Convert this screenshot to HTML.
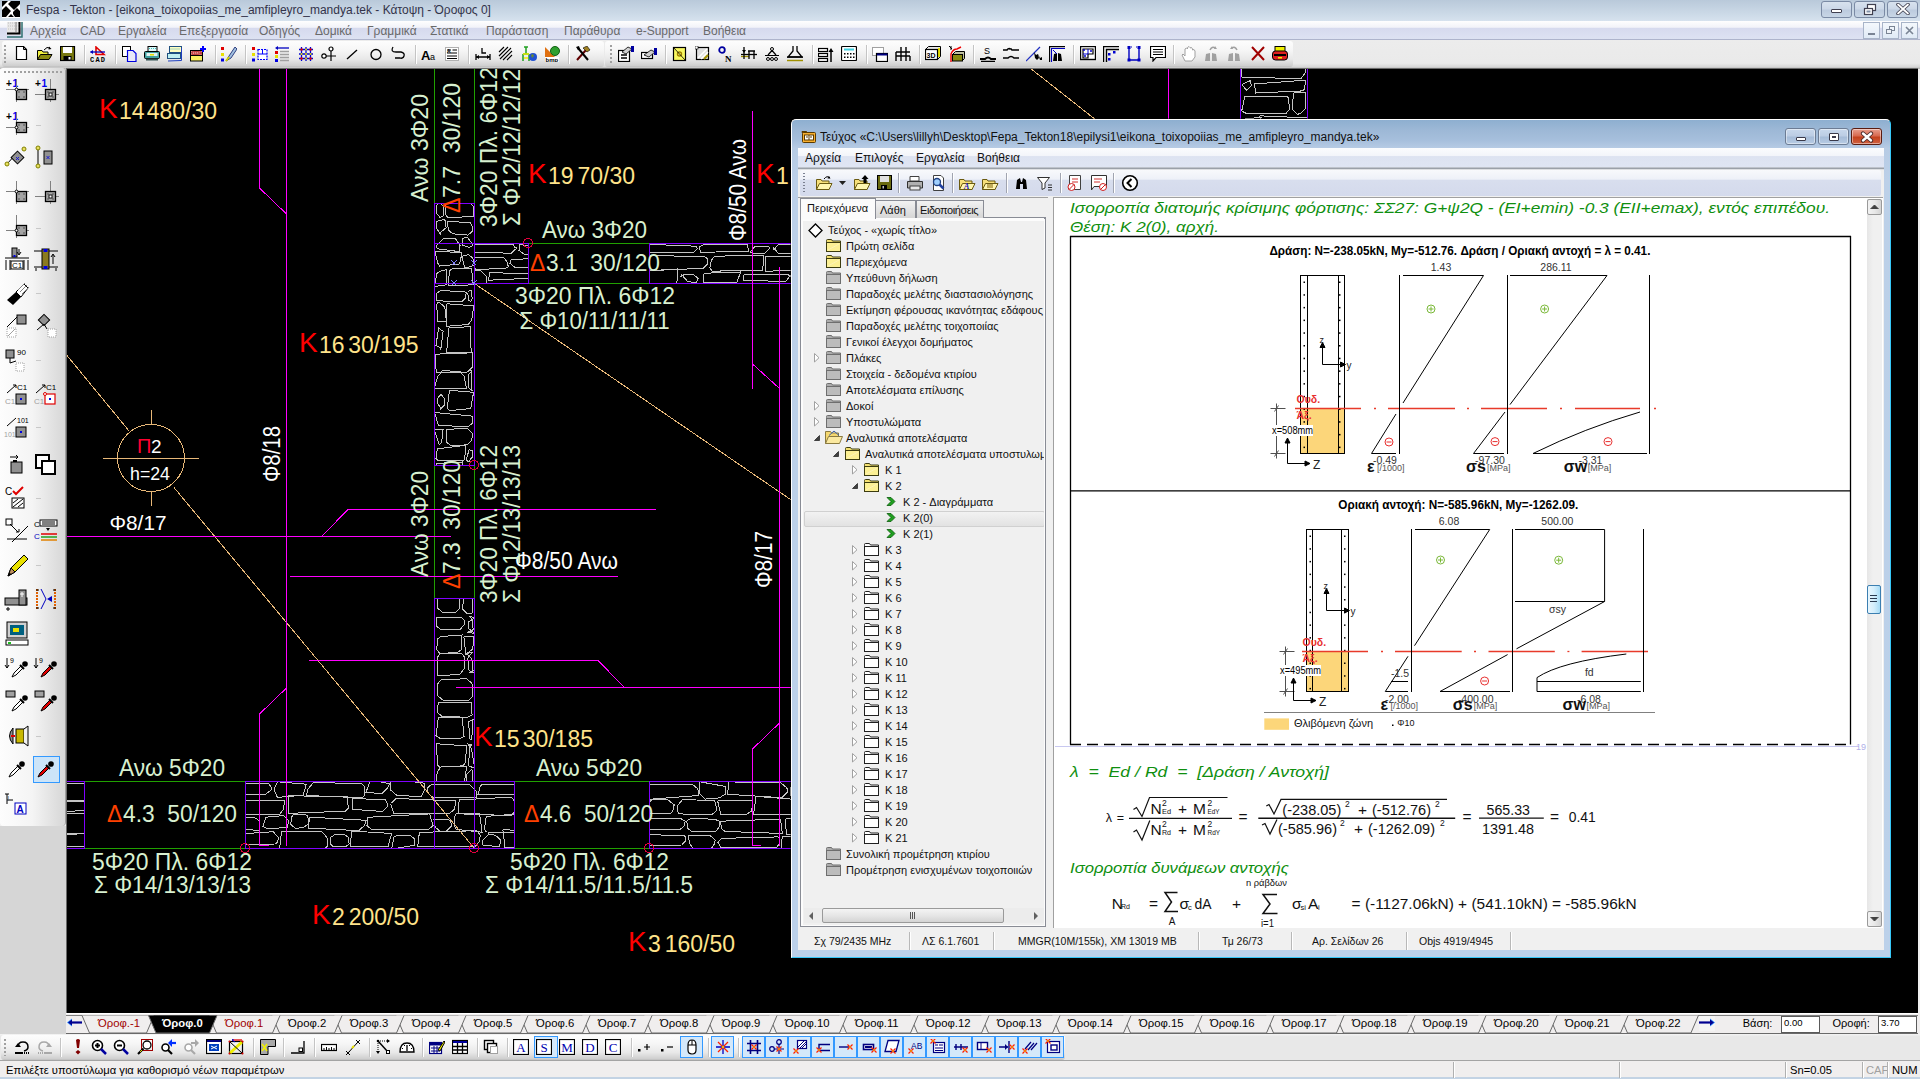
<!DOCTYPE html><html><head><meta charset="utf-8"><style>*{margin:0;padding:0;box-sizing:border-box}
html,body{width:1920px;height:1079px;overflow:hidden;background:#f0f0f0;font-family:"Liberation Sans",sans-serif;color:#000}
.a{position:absolute}
svg{position:absolute;overflow:hidden}
#title{left:0;top:0;width:1920px;height:21px;background:linear-gradient(#b9c9da,#cad8e6 60%,#d6e2ee)}
#title .t{left:26px;top:3px;font-size:12px;color:#33334a;white-space:nowrap}
#menu{left:0;top:21px;width:1920px;height:19px;background:linear-gradient(#fefefe 0,#f2f3f9 35%,#d6daee 40%,#dde2f2 100%);border-bottom:1px solid #aeb4cc}
#menu span{position:absolute;top:3px;font-size:12px;color:#6a6a6a;white-space:nowrap}
#tb{left:0;top:40px;width:1920px;height:29px;background:linear-gradient(#ececec,#eaeaea 80%,#d8d8d8 92%,#b0b0b0)}
.tbin{border-radius:3px;background:linear-gradient(#fdfdfd,#f6f6f6 35%,#e8e8e8 70%,#cfcfcf 95%,#bdbdbd)}
#lt{left:0;top:68px;width:66px;height:758px;border-radius:3px 3px 4px 4px;background:linear-gradient(90deg,#fdfdfd,#f4f4f4 50%,#e2e2e2 80%,#d8d8d8 97%);border-right:1px solid #a0a0a0}
#canvas{left:66px;top:68px;width:1852px;height:946px;background:#000;border-left:1px solid #6a6a6a;border-top:1px solid #6a6a6a}
#tabs{left:66px;top:1013px;width:1854px;height:21px;background:#f0eeee}
#ltgray{left:0;top:826px;width:66px;height:208px;background:#d6d6d6}
#btb{left:0;top:1034px;width:1920px;height:27px;background:linear-gradient(#f4f4f4,#e8e8e8 10%,#e8e8e8);border-bottom:1px solid #a4a4a4}
#status{left:0;top:1061px;width:1920px;height:18px;background:#f0eeee;border-bottom:2px solid #c3d3e4}
#status span{position:absolute;top:3px;font-size:11.2px;white-space:nowrap}
.sep{position:absolute;width:1px;background:#c8c8c8;box-shadow:1px 0 0 #fff}
.tr{font-size:11px;color:#111;white-space:nowrap}
</style></head><body><div id="title" class="a"><div class="a t">Fespa - Tekton - [eikona_toixopoiias_me_amfipleyro_mandya.tek - Κάτοψη - Όροφος 0]</div></div><svg class="a" style="left:2px;top:1px" width="18" height="17" viewBox="0 0 18 17"><rect x="0" y="0" width="18" height="17" fill="#fff"/><path d="M0,0L6,0L0,6Z M9,0L18,0L18,3L12,9L6,3Z M0,9L4,5L9,10L4,16L0,16Z M11,11L15,7L18,10L18,16L13,16L11,13Z M6,16L9,13L12,16Z" fill="#000"/></svg><div class="a" style="left:1821px;top:1px;width:31px;height:17px;border:1px solid #7a8aa4;border-radius:3px;background:linear-gradient(#d8e2ee,#ccd8e8 45%,#bccbde 55%,#c8d6e6)"></div><div class="a" style="left:1854px;top:1px;width:31px;height:17px;border:1px solid #7a8aa4;border-radius:3px;background:linear-gradient(#d8e2ee,#ccd8e8 45%,#bccbde 55%,#c8d6e6)"></div><div class="a" style="left:1887px;top:1px;width:31px;height:17px;border:1px solid #7a8aa4;border-radius:3px;background:linear-gradient(#d8e2ee,#ccd8e8 45%,#bccbde 55%,#c8d6e6)"></div><div class="a" style="left:1831px;top:9px;width:11px;height:4px;background:#fff;border:1px solid #404050;border-radius:1px"></div><svg class="a" style="left:1863px;top:3px" width="14" height="13"><rect x="4.5" y="1.5" width="8" height="6" fill="#fff" stroke="#404050" stroke-width="1.2"/><rect x="1.5" y="5.5" width="8" height="6" fill="#fff" stroke="#404050" stroke-width="1.2"/><rect x="3.5" y="7.5" width="4" height="2" fill="#8090a8"/></svg><svg class="a" style="left:1896px;top:3px" width="14" height="12"><path d="M2,1.5L12,10.5M12,1.5L2,10.5" stroke="#404050" stroke-width="3.6" stroke-linecap="round"/><path d="M2,1.5L12,10.5M12,1.5L2,10.5" stroke="#fff" stroke-width="1.8" stroke-linecap="round"/></svg><div id="menu" class="a"><svg class="a" style="left:7px;top:1px" width="16" height="16" viewBox="0 0 16 16"><rect x="0" y="0" width="13" height="13" fill="#e8e8e8"/><path d="M1,1L12,1M1,4L12,4M1,7L12,7" stroke="#c0c0c0" stroke-dasharray="1,1"/><path d="M9,0L9,10" stroke="#808080"/><path d="M0,11.5L12.5,11.5L12.5,0" fill="none" stroke="#000" stroke-width="2"/><path d="M0,15L15,15L15,0" fill="none" stroke="#307070" stroke-width="1.5"/></svg><span style="left:30px">Αρχεία</span><span style="left:80px">CAD</span><span style="left:118px">Εργαλεία</span><span style="left:179px">Επεξεργασία</span><span style="left:259px">Οδηγός</span><span style="left:315px">Δομικά</span><span style="left:367px">Γραμμικά</span><span style="left:430px">Στατικά</span><span style="left:486px">Παράσταση</span><span style="left:564px">Παράθυρα</span><span style="left:636px">e-Support</span><span style="left:703px">Βοήθεια</span></div><div class="a" style="left:1863px;top:22px;width:17px;height:17px;border:1px solid #a8b4c8;background:linear-gradient(#f4f8fc,#e0eaf6)"></div><div class="a" style="left:1882px;top:22px;width:17px;height:17px;border:1px solid #a8b4c8;background:linear-gradient(#f4f8fc,#e0eaf6)"></div><div class="a" style="left:1901px;top:22px;width:17px;height:17px;border:1px solid #a8b4c8;background:linear-gradient(#f4f8fc,#e0eaf6)"></div><div class="a" style="left:1868px;top:33px;width:7px;height:2px;background:#7a8494"></div><svg class="a" style="left:1886px;top:26px" width="10" height="9"><rect x="3.5" y="0.5" width="5" height="4" fill="none" stroke="#7a8494"/><rect x="0.5" y="3.5" width="5" height="4" fill="#eef2f8" stroke="#7a8494"/></svg><svg class="a" style="left:1905px;top:26px" width="9" height="9"><path d="M1,1L8,8M8,1L1,8" stroke="#7a8494" stroke-width="1.6"/></svg><div id="tb" class="a"></div><div class="a tbin" style="left:2px;top:41px;width:602px;height:26px"></div><div class="a tbin" style="left:605px;top:41px;width:688px;height:26px"></div><div class="a" style="left:4px;top:45px;width:2px;height:18px;background:repeating-linear-gradient(#a0a0a0 0 2px,transparent 2px 4px)"></div><div class="a" style="left:610px;top:45px;width:2px;height:18px;background:repeating-linear-gradient(#a0a0a0 0 2px,transparent 2px 4px)"></div><svg class="a" style="left:14px;top:46px" width="16" height="16" viewBox="0 0 16 16"><path d="M2.5,0.5L9.5,0.5L12.5,3.5L12.5,13.5L2.5,13.5Z" fill="#fff" stroke="#000" stroke-width="1.2"/><path d="M9.5,0.5L9.5,3.5L12.5,3.5" fill="none" stroke="#000"/></svg><svg class="a" style="left:37px;top:46px" width="16" height="16" viewBox="0 0 16 16"><path d="M0.5,13.5L0.5,4.5L5,4.5L6,6L11,6L11,13.5Z" fill="#f0f040" stroke="#000"/><path d="M0.5,13.5L3.5,8.5L15,8.5L12,13.5Z" fill="#8a8a10" stroke="#000"/><path d="M7,4Q10,0 13,2" fill="none" stroke="#000"/><path d="M12,0.5L14.5,3L11.5,3.5Z" fill="#000"/></svg><svg class="a" style="left:60px;top:46px" width="16" height="16" viewBox="0 0 16 16"><rect x="0.5" y="0.5" width="14" height="14" fill="#7a7a10" stroke="#000" stroke-width="1.2"/><rect x="3" y="1" width="9" height="6" fill="#fff"/><rect x="3.5" y="10" width="8" height="4.5" fill="#000"/><rect x="8.5" y="11" width="2" height="2.5" fill="#fff"/></svg><svg class="a" style="left:90px;top:46px" width="16" height="16" viewBox="0 0 16 16"><path d="M6,1L14,8.5L6,8.5Z" fill="none" stroke="#e00000" stroke-width="1.6"/><path d="M0.5,6L15,6" stroke="#0000c0" stroke-width="1.3"/><path d="M0,6L3,4L3,8Z" fill="#0000c0"/><text x="0" y="15.5" font-size="7" font-weight="bold" fill="#000" font-family="Liberation Mono" textLength="15">CAD</text></svg><svg class="a" style="left:122px;top:46px" width="16" height="16" viewBox="0 0 16 16"><rect x="0.5" y="0.5" width="8" height="10" fill="#fff" stroke="#000"/><path d="M5.5,4.5L11,4.5L14,7.5L14,15.5L5.5,15.5Z" fill="#e8e8f8" stroke="#0000e0" stroke-width="1.2"/></svg><svg class="a" style="left:144px;top:46px" width="16" height="16" viewBox="0 0 16 16"><rect x="4" y="0.5" width="9" height="5" fill="#e0f8f8" stroke="#000"/><path d="M5,2.5L12,2.5" stroke="#40c0c0" stroke-dasharray="1,1"/><rect x="0.5" y="5.5" width="15" height="7" rx="1" fill="#40a0a0" stroke="#000"/><rect x="2.5" y="7" width="11" height="3" fill="#e0f0f0"/><rect x="6" y="8" width="4" height="1.5" fill="#e0e000"/><rect x="2" y="12.5" width="12" height="2" fill="#305050"/></svg><svg class="a" style="left:167px;top:46px" width="16" height="16" viewBox="0 0 16 16"><rect x="2.5" y="0.5" width="12" height="6" fill="#ffffc0" stroke="#205080"/><path d="M3.5,3L13,3" stroke="#40a0c0" stroke-dasharray="1,1"/><rect x="0.5" y="7.5" width="13" height="5" fill="#c0f0f0" stroke="#205080"/><path d="M14.5,2L14.5,14.5L1,15" fill="none" stroke="#2040c0"/></svg><svg class="a" style="left:190px;top:46px" width="16" height="16" viewBox="0 0 16 16"><rect x="0.5" y="4.5" width="12" height="5" fill="#c04040" stroke="#000"/><path d="M1,5.5L12,9M1,8L12,5.5" stroke="#f0c0c0" stroke-width=".8" stroke-dasharray="1,1"/><rect x="0.5" y="9.5" width="12" height="5.5" fill="#f8f060" stroke="#000"/><path d="M13,0L13,6M10,3L16,3" stroke="#0000ff" stroke-width="2"/></svg><svg class="a" style="left:221px;top:46px" width="16" height="16" viewBox="0 0 16 16"><rect x="0" y="1" width="3" height="3" fill="#e00000"/><rect x="0" y="7" width="3" height="3" fill="#e8e000"/><rect x="0" y="12.5" width="3" height="3" fill="#0000e0"/><path d="M5,15L8,10L14,1L16,3L10,12Z" fill="#a0c0e0" stroke="#304080"/><path d="M5,15L8,11" stroke="#d0d000" stroke-width="2"/></svg><svg class="a" style="left:252px;top:46px" width="16" height="16" viewBox="0 0 16 16"><rect x="0" y="1" width="3" height="3" fill="#e00000"/><rect x="0" y="7" width="3" height="3" fill="#e8e000"/><rect x="0" y="12.5" width="3" height="3" fill="#0000e0"/><rect x="6" y="3.5" width="9" height="10" fill="#fff" stroke="#0000ff" stroke-width="1.2" stroke-dasharray="2,1"/><path d="M6,8L15,8M10.5,3.5L10.5,8" stroke="#0000ff"/></svg><svg class="a" style="left:275px;top:46px" width="16" height="16" viewBox="0 0 16 16"><path d="M2,2L14,2" stroke="#0000c0" stroke-width="1.3"/><path d="M0,2L3,0L3,4Z" fill="#0000c0"/><rect x="0" y="5" width="3" height="3" fill="#e00000"/><rect x="0" y="9" width="3" height="3" fill="#e8e000"/><rect x="0" y="13" width="3" height="3" fill="#0000e0"/><path d="M5,5.5L14,5.5M5,8.5L14,8.5M5,11.5L14,11.5M5,14.5L14,14.5" stroke="#a0a0a0" stroke-width="1.6"/></svg><svg class="a" style="left:298px;top:46px" width="16" height="16" viewBox="0 0 16 16"><path d="M1,3.5L15,3.5M1,8L15,8M1,12.5L15,12.5M3.5,1L3.5,15M8,1L8,15M12.5,1L12.5,15" stroke="#0000d0" stroke-width="1.3"/><g fill="#e00000"><circle cx="3.5" cy="3.5" r="1.2"/><circle cx="12.5" cy="3.5" r="1.2"/><circle cx="3.5" cy="12.5" r="1.2"/><circle cx="12.5" cy="12.5" r="1.2"/></g><g fill="#e8e000"><circle cx="8" cy="8" r="1.1"/><circle cx="8" cy="3.5" r="1"/><circle cx="3.5" cy="8" r="1"/><circle cx="12.5" cy="8" r="1"/><circle cx="8" cy="12.5" r="1"/></g></svg><svg class="a" style="left:321px;top:46px" width="16" height="16" viewBox="0 0 16 16"><circle cx="3" cy="10" r="2.2" fill="#fff" stroke="#000" stroke-width="1.2"/><circle cx="10" cy="3" r="2" fill="#fff" stroke="#000" stroke-width="1.2"/><path d="M5,10L15,10M10,5L10,15" stroke="#000" stroke-width="1.2"/></svg><svg class="a" style="left:344px;top:46px" width="16" height="16" viewBox="0 0 16 16"><path d="M3,13L13,4" stroke="#000" stroke-width="1.3"/></svg><svg class="a" style="left:368px;top:46px" width="16" height="16" viewBox="0 0 16 16"><circle cx="8" cy="8.5" r="5" fill="none" stroke="#000" stroke-width="1.3"/></svg><svg class="a" style="left:390px;top:46px" width="16" height="16" viewBox="0 0 16 16"><path d="M3,1Q0,6 6,6L11,6Q15,7 14,10Q13,13 10,12L5,12" fill="none" stroke="#000" stroke-width="1.3"/></svg><svg class="a" style="left:421px;top:46px" width="16" height="16" viewBox="0 0 16 16"><text x="0" y="14" font-size="13" font-weight="bold" fill="#000" font-family="Liberation Sans">A</text><text x="9" y="14" font-size="9" fill="#000" font-family="Liberation Sans">a</text></svg><svg class="a" style="left:444px;top:46px" width="16" height="16" viewBox="0 0 16 16"><rect x="1.5" y="1.5" width="13" height="13" fill="#fff" stroke="#b0b0b0"/><path d="M3,4L7,4M3,7L13,7M3,10L13,10M3,12.5L13,12.5M8.5,4L13,4" stroke="#000"/><text x="3" y="7" font-size="5" font-weight="bold" font-family="Liberation Sans">A</text></svg><svg class="a" style="left:475px;top:46px" width="16" height="16" viewBox="0 0 16 16"><path d="M1,8L1,14M15,8L15,14M1,11L15,11" stroke="#000" stroke-width="1.3"/><path d="M1,11L4,9L4,13ZM15,11L12,9L12,13Z" fill="#000"/><path d="M7,2L7,7L11,7" fill="none" stroke="#000" stroke-width="1.3"/></svg><svg class="a" style="left:498px;top:46px" width="16" height="16" viewBox="0 0 16 16"><path d="M1,6L6,1M1,10L10,1M2,13L13,2M5,14L14,5M9,14L14,9" stroke="#000" stroke-width="1.1"/></svg><svg class="a" style="left:521px;top:46px" width="16" height="16" viewBox="0 0 16 16"><path d="M3,1L7,1M5,1L5,8M2,8L8,8M2,8L2,15M8,8L8,15" stroke="#20a020" stroke-width="1.5"/><path d="M2,8L8,8M3,12L7,12" stroke="#f0f000" stroke-width="1.5"/><circle cx="12" cy="11" r="4" fill="#2050d0"/><path d="M10,9L12,8L13,10L11,12Z" fill="#6a8a30"/></svg><svg class="a" style="left:544px;top:46px" width="16" height="16" viewBox="0 0 16 16"><path d="M1,1L11,11L1,11Z" fill="#e07010"/><circle cx="11" cy="5" r="4.5" fill="#30a030" stroke="#106010"/><rect x="1" y="11" width="14" height="5" fill="#fff"/><text x="1.5" y="15.8" font-size="6" font-weight="bold" font-family="Liberation Sans">bmp</text></svg><svg class="a" style="left:575px;top:46px" width="16" height="16" viewBox="0 0 16 16"><path d="M2,14L11,4" stroke="#600000" stroke-width="2"/><path d="M8,2L12,0L15,4L12,6Z" fill="#a08020" stroke="#000" stroke-width=".6"/><path d="M3,2L13,14" stroke="#000" stroke-width="2"/><path d="M1,1L4,0L5,3L3,4Z" fill="#000"/></svg><svg class="a" style="left:618px;top:46px" width="16" height="16" viewBox="0 0 16 16"><rect x="0.5" y="4.5" width="11" height="11" fill="#fff" stroke="#000" stroke-width="1.2"/><path d="M3,9L9,9M3,12L9,12" stroke="#000" stroke-width="1.3"/><path d="M4,6L10,1L14,3L8,8Z" fill="#d0d0d0" stroke="#000" stroke-width=".8"/><rect x="13" y="0" width="3" height="6" fill="#0000a0"/></svg><svg class="a" style="left:641px;top:46px" width="16" height="16" viewBox="0 0 16 16"><rect x="0.5" y="6.5" width="11" height="6" fill="#fff" stroke="#000" stroke-width="1.2"/><path d="M3,9L10,4L14,6L8,11Z" fill="#d0d0d0" stroke="#000" stroke-width=".8"/><rect x="13" y="2" width="3" height="7" fill="#0000a0"/></svg><svg class="a" style="left:672px;top:46px" width="16" height="16" viewBox="0 0 16 16"><rect x="1.5" y="1.5" width="12" height="13" fill="#f8f860" stroke="#000" stroke-width="1.2"/><circle cx="7.5" cy="8" r="2" fill="none" stroke="#a08000" stroke-width="1.4"/><path d="M2,2L13,14" stroke="#000" stroke-width=".8"/></svg><svg class="a" style="left:695px;top:46px" width="16" height="16" viewBox="0 0 16 16"><rect x="1.5" y="1.5" width="12" height="12" fill="#e0e0e0" stroke="#000" stroke-width="1.2"/><path d="M3,12L12,3M6,13L13,6" stroke="#fff" stroke-width="1.5"/><path d="M9,13L13,9" stroke="#a09000" stroke-width="2"/><rect x="0" y="0" width="3" height="3" fill="#fff" stroke="#000" stroke-width=".6"/></svg><svg class="a" style="left:718px;top:46px" width="16" height="16" viewBox="0 0 16 16"><circle cx="4" cy="4" r="2.8" fill="none" stroke="#0000a0" stroke-width="1.8"/><text x="7" y="15.5" font-size="9" font-weight="bold" font-family="Liberation Serif" fill="#000">N</text></svg><svg class="a" style="left:741px;top:46px" width="16" height="16" viewBox="0 0 16 16"><path d="M0,8.5L16,8.5" stroke="#000" stroke-width="1.3"/><path d="M0,10.5L8,10.5" stroke="#a09000" stroke-width="1.3"/><path d="M3,1L3,13M8,5L8,13M13,5L13,13M7,5L14,5" stroke="#000" stroke-width="1.3"/><path d="M3,7L1,4L5,4Z" fill="#000"/></svg><svg class="a" style="left:764px;top:46px" width="16" height="16" viewBox="0 0 16 16"><circle cx="8" cy="3" r="1.5" fill="none" stroke="#000"/><path d="M8,4.5L4,9M8,4.5L12,9M1,9.5L15,9.5" stroke="#000" stroke-width="1.2"/><circle cx="4" cy="13" r="1.5" fill="none" stroke="#000"/><circle cx="12" cy="13" r="1.5" fill="none" stroke="#000"/><circle cx="8" cy="13" r="1.5" fill="none" stroke="#000"/></svg><svg class="a" style="left:787px;top:46px" width="16" height="16" viewBox="0 0 16 16"><path d="M6,0L6,5L1,11L15,11L10,5L10,0" fill="none" stroke="#000" stroke-width="1.3"/><path d="M0,11L16,11" stroke="#000" stroke-width="1.3"/><path d="M0,14.5L16,14.5" stroke="#a09000" stroke-width="1.5"/></svg><svg class="a" style="left:818px;top:46px" width="16" height="16" viewBox="0 0 16 16"><rect x="0.5" y="2.5" width="9" height="3" fill="#fff" stroke="#000" stroke-width="1.2"/><rect x="0.5" y="7.5" width="9" height="3" fill="#fff" stroke="#000" stroke-width="1.2"/><rect x="0.5" y="12.5" width="9" height="3" fill="#fff" stroke="#000" stroke-width="1.2"/><path d="M13,16L13,4" stroke="#000" stroke-width="1.5"/><path d="M13,2L10.5,6L15.5,6Z" fill="#000"/></svg><svg class="a" style="left:841px;top:46px" width="16" height="16" viewBox="0 0 16 16"><rect x="0.5" y="0.5" width="15" height="14" rx="1" fill="#fff" stroke="#000" stroke-width="1.2"/><rect x="3" y="2.5" width="10" height="2" fill="#40d0e0"/><g fill="#000"><rect x="3" y="7" width="1.5" height="1.5"/><rect x="6" y="7" width="1.5" height="1.5"/><rect x="9" y="7" width="1.5" height="1.5"/><rect x="12" y="7" width="1.5" height="1.5"/><rect x="3" y="10.5" width="1.5" height="1.5"/><rect x="6" y="10.5" width="1.5" height="1.5"/><rect x="9" y="10.5" width="1.5" height="1.5"/><rect x="12" y="10.5" width="1.5" height="1.5"/></g></svg><svg class="a" style="left:872px;top:46px" width="16" height="16" viewBox="0 0 16 16"><rect x="0.5" y="1.5" width="11" height="8" fill="#fff" stroke="#a0a0a0"/><rect x="4.5" y="7.5" width="11" height="8" fill="#fff" stroke="#000" stroke-width="1.2"/><rect x="5" y="7.5" width="10.5" height="2" fill="#000080"/></svg><svg class="a" style="left:895px;top:46px" width="16" height="16" viewBox="0 0 16 16"><path d="M1,15L1,6M6,15L6,1M11,15L11,1M15,15L15,10M1,6L15,6M1,10L15,10" stroke="#000" stroke-width="1.4"/></svg><svg class="a" style="left:925px;top:46px" width="16" height="16" viewBox="0 0 16 16"><path d="M0.5,3.5L3.5,0.5L15.5,0.5L15.5,10.5L12.5,13.5" fill="#e8e8e8" stroke="#000"/><path d="M14,2L14,11" stroke="#e8e000" stroke-width="2"/><rect x="0.5" y="3.5" width="12" height="10" fill="#fff" stroke="#000" stroke-width="1.2"/><text x="1.5" y="11.5" font-size="7" font-weight="bold" font-family="Liberation Sans" fill="#000">3D</text></svg><svg class="a" style="left:949px;top:46px" width="16" height="16" viewBox="0 0 16 16"><path d="M3.5,8.5L6.5,5.5L15.5,5.5L15.5,12.5L13.5,14.5" fill="#c0c0a0" stroke="#000"/><rect x="3.5" y="8.5" width="10" height="6.5" fill="#8a8a10" stroke="#000"/><path d="M2,16L2,8Q4,3 8,3L12,1" fill="none" stroke="#f00000" stroke-width="1.4"/><path d="M0,0L3,3M2,0L2,4" stroke="#000"/></svg><svg class="a" style="left:980px;top:46px" width="16" height="16" viewBox="0 0 16 16"><text x="4" y="8" font-size="9" font-family="Liberation Sans">S</text><path d="M0,13L5,13Q8,10 11,13L16,13" fill="none" stroke="#000" stroke-width="2"/><path d="M1,15.5L15,15.5" stroke="#000" stroke-width="1.5"/></svg><svg class="a" style="left:1003px;top:46px" width="16" height="16" viewBox="0 0 16 16"><path d="M0,4L4,4Q6,1 9,4L16,4M0,12L5,12Q8,9 11,12L16,12" fill="none" stroke="#000" stroke-width="1.6"/><path d="M6,3L9,3" stroke="#000" stroke-dasharray="1,1"/></svg><svg class="a" style="left:1026px;top:46px" width="16" height="16" viewBox="0 0 16 16"><path d="M0,15L14,1" stroke="#2030c0" stroke-width="1.2"/><path d="M8,6L10,9L12,8L13,12L11,14L9,12Z" fill="#000"/><path d="M12,8L14,12L16,11L16,14L14,14Z" fill="#000"/></svg><svg class="a" style="left:1049px;top:46px" width="16" height="16" viewBox="0 0 16 16"><path d="M0.5,16L0.5,0.5L16,0.5" fill="none" stroke="#000" stroke-width="1.3"/><path d="M2.5,16L2.5,2.5L16,2.5" fill="none" stroke="#0000c0" stroke-width="1.1"/><path d="M4,15L5,8L8,7L8,15ZM9,15L9,7L12,8L13,15Z" fill="#000"/><path d="M4,4L8,8" stroke="#0000c0"/></svg><svg class="a" style="left:1080px;top:46px" width="16" height="16" viewBox="0 0 16 16"><rect x="0.5" y="0.5" width="15" height="13" fill="#fff" stroke="#000" stroke-width="1.4"/><path d="M3,3L13,3L13,8L8,8L8,12L3,12Z" fill="#fff" stroke="#000" stroke-width="1.2"/><path d="M3,8L8,8M8,3L8,8" stroke="#0000d0"/><circle cx="4" cy="4" r="1" fill="#0000d0"/><circle cx="11" cy="5" r="1" fill="#0000d0"/><circle cx="5" cy="10" r="1" fill="#0000d0"/></svg><svg class="a" style="left:1103px;top:46px" width="16" height="16" viewBox="0 0 16 16"><path d="M0.5,16L0.5,0.5L16,0.5" fill="none" stroke="#000" stroke-width="1.4"/><path d="M3.5,16L3.5,3.5L16,3.5" fill="none" stroke="#000" stroke-width="1.4"/><rect x="5" y="7" width="2.5" height="2.5" fill="#0000d0"/><rect x="10" y="5" width="2.5" height="2.5" fill="#0000d0"/><rect x="5" y="12" width="2.5" height="2.5" fill="#0000d0"/></svg><svg class="a" style="left:1126px;top:46px" width="16" height="16" viewBox="0 0 16 16"><path d="M3,1L3,14L13,14L13,1" fill="none" stroke="#0000c0" stroke-width="1.4"/><g fill="#0000c0"><rect x="1.5" y="0" width="3" height="3"/><rect x="11.5" y="0" width="3" height="3"/><rect x="1.5" y="12.5" width="3" height="3"/><rect x="11.5" y="12.5" width="3" height="3"/></g><path d="M5,1L6,1M10,1L11,1" stroke="#0000c0"/></svg><svg class="a" style="left:1150px;top:46px" width="16" height="16" viewBox="0 0 16 16"><path d="M0.5,0.5L15.5,0.5L15.5,11.5L6,11.5L3,15L3,11.5L0.5,11.5Z" fill="#fff" stroke="#000" stroke-width="1.2"/><path d="M3,3.5L13,3.5M3,6L13,6M3,8.5L13,8.5" stroke="#000"/></svg><svg class="a" style="left:1181px;top:46px" width="16" height="16" viewBox="0 0 16 16"><path d="M4,15L1,9L2,8L4,10L4,3L5.5,2L6.5,3L6.5,1.5L8,0.5L9,1.5L9,2L10.5,1.5L11.5,3L11.5,4L13,3.5L14,5L14,11L11,15Z" fill="#fff" stroke="#a0a0a0" stroke-width="1"/></svg><svg class="a" style="left:1204px;top:46px" width="16" height="16" viewBox="0 0 16 16"><path d="M1,15L2,8L6,7L6,15ZM8,15L8,7L12,8L13,15Z" fill="#a0a0a0"/><path d="M6,4Q8,0 11,2" fill="none" stroke="#a0a0a0" stroke-width="1.5"/><path d="M11,0L13,3L10,3Z" fill="#a0a0a0"/></svg><svg class="a" style="left:1227px;top:46px" width="16" height="16" viewBox="0 0 16 16"><path d="M1,15L2,8L6,7L6,15ZM8,15L8,7L12,8L13,15Z" fill="#a0a0a0"/><path d="M10,4Q8,0 5,2" fill="none" stroke="#a0a0a0" stroke-width="1.5"/><path d="M5,0L3,3L6,3Z" fill="#a0a0a0"/></svg><svg class="a" style="left:1250px;top:46px" width="16" height="16" viewBox="0 0 16 16"><path d="M2,1L14,14M14,1L2,14" stroke="#a00000" stroke-width="2"/></svg><svg class="a" style="left:1272px;top:46px" width="16" height="16" viewBox="0 0 16 16"><rect x="3" y="0.5" width="10" height="5" fill="#f0f000" stroke="#000"/><rect x="0.5" y="5" width="15" height="9" rx="3" fill="#e02020" stroke="#000"/><rect x="2" y="8" width="12" height="2" fill="#000"/><rect x="6" y="11" width="4" height="1.5" fill="#f0f000"/></svg><div class="a" style="left:84px;top:45px;width:1px;height:19px;background:#c4c4c4;box-shadow:1px 0 0 #fff"></div><div class="a" style="left:115px;top:45px;width:1px;height:19px;background:#c4c4c4;box-shadow:1px 0 0 #fff"></div><div class="a" style="left:215px;top:45px;width:1px;height:19px;background:#c4c4c4;box-shadow:1px 0 0 #fff"></div><div class="a" style="left:245px;top:45px;width:1px;height:19px;background:#c4c4c4;box-shadow:1px 0 0 #fff"></div><div class="a" style="left:415px;top:45px;width:1px;height:19px;background:#c4c4c4;box-shadow:1px 0 0 #fff"></div><div class="a" style="left:468px;top:45px;width:1px;height:19px;background:#c4c4c4;box-shadow:1px 0 0 #fff"></div><div class="a" style="left:568px;top:45px;width:1px;height:19px;background:#c4c4c4;box-shadow:1px 0 0 #fff"></div><div class="a" style="left:665px;top:45px;width:1px;height:19px;background:#c4c4c4;box-shadow:1px 0 0 #fff"></div><div class="a" style="left:812px;top:45px;width:1px;height:19px;background:#c4c4c4;box-shadow:1px 0 0 #fff"></div><div class="a" style="left:866px;top:45px;width:1px;height:19px;background:#c4c4c4;box-shadow:1px 0 0 #fff"></div><div class="a" style="left:919px;top:45px;width:1px;height:19px;background:#c4c4c4;box-shadow:1px 0 0 #fff"></div><div class="a" style="left:973px;top:45px;width:1px;height:19px;background:#c4c4c4;box-shadow:1px 0 0 #fff"></div><div class="a" style="left:1073px;top:45px;width:1px;height:19px;background:#c4c4c4;box-shadow:1px 0 0 #fff"></div><div class="a" style="left:1173px;top:45px;width:1px;height:19px;background:#c4c4c4;box-shadow:1px 0 0 #fff"></div><div id="lt" class="a"></div><div class="a" style="left:4px;top:71px;width:58px;height:2px;background:repeating-linear-gradient(90deg,#a0a0a0 0 2px,transparent 2px 4px)"></div><svg class="a" style="left:4px;top:79px" width="26" height="26" viewBox="0 0 26 26"><text x="2" y="8" font-size="10" font-weight="bold" font-family="Liberation Sans" fill="#000">+</text><text x="8.5" y="8" font-size="10" font-weight="bold" font-family="Liberation Sans" fill="#0000f0">1</text><path d="M12.5,0L12.5,23M2,10.5L25,10.5" stroke="#808080" stroke-width="1"/><rect x="12.5" y="10.5" width="10" height="10" fill="#a4a4a4" stroke="#000" stroke-width="1.3"/><g fill="#000"><rect x="14.5" y="12.5" width="1" height="1"/><rect x="19.5" y="12.5" width="1" height="1"/><rect x="14.5" y="17.5" width="1" height="1"/><rect x="19.5" y="17.5" width="1" height="1"/></g><circle cx="12.5" cy="10.5" r="1.4" fill="#fff" stroke="#000" stroke-width="1"/></svg><svg class="a" style="left:33px;top:79px" width="26" height="26" viewBox="0 0 26 26"><text x="2" y="8" font-size="10" font-weight="bold" font-family="Liberation Sans" fill="#000">+</text><text x="8.5" y="8" font-size="10" font-weight="bold" font-family="Liberation Sans" fill="#0000f0">1</text><path d="M17.5,0L17.5,23M2,15.5L26,15.5" stroke="#808080" stroke-width="1"/><rect x="12.5" y="10.5" width="10" height="10" fill="#a4a4a4" stroke="#000" stroke-width="1.3"/><rect x="16" y="14" width="3" height="3" fill="#fff" stroke="#000" stroke-width=".9"/><g fill="#000"><rect x="14.5" y="12.5" width="1" height="1"/><rect x="19.5" y="12.5" width="1" height="1"/><rect x="14.5" y="17.5" width="1" height="1"/><rect x="19.5" y="17.5" width="1" height="1"/></g></svg><svg class="a" style="left:4px;top:112px" width="26" height="26" viewBox="0 0 26 26"><text x="2" y="8" font-size="10" font-weight="bold" font-family="Liberation Sans" fill="#000">+</text><text x="8.5" y="8" font-size="10" font-weight="bold" font-family="Liberation Sans" fill="#0000f0">1</text><path d="M12.5,0L12.5,23M2,15.5L25,15.5" stroke="#808080" stroke-width="1"/><rect x="12.5" y="10.5" width="10" height="10" fill="#a4a4a4" stroke="#000" stroke-width="1.3"/><g fill="#000"><rect x="14.5" y="12.5" width="1" height="1"/><rect x="19.5" y="12.5" width="1" height="1"/><rect x="14.5" y="17.5" width="1" height="1"/><rect x="19.5" y="17.5" width="1" height="1"/></g><circle cx="12.5" cy="15.5" r="1.4" fill="#fff" stroke="#000" stroke-width="1"/></svg><svg class="a" style="left:33px;top:112px" width="26" height="26" viewBox="0 0 26 26"><path d="M3,13.5L8,13.5" stroke="#c8c8c8"/></svg><svg class="a" style="left:4px;top:144px" width="26" height="26" viewBox="0 0 26 26"><path d="M3,20L12,10" stroke="#000"/><rect x="9" y="9" width="9" height="9" transform="rotate(45 13.5 13.5)" fill="#909090" stroke="#000"/><circle cx="3" cy="20" r="2" fill="#e8e060" stroke="#808000"/><circle cx="20" cy="5" r="2" fill="#e8e060" stroke="#808000"/><path d="M12,13L15,16M15,13L12,16" stroke="#0000e0" stroke-width=".8"/></svg><svg class="a" style="left:33px;top:144px" width="26" height="26" viewBox="0 0 26 26"><path d="M5,4L5,22" stroke="#000"/><circle cx="5" cy="4" r="2" fill="#e8e060" stroke="#808000"/><circle cx="5" cy="22" r="2" fill="#e8e060" stroke="#808000"/><rect x="11" y="7" width="8" height="13" fill="#909090" stroke="#000"/><path d="M13.5,12L16.5,15M16.5,12L13.5,15" stroke="#0000e0" stroke-width=".8"/></svg><svg class="a" style="left:4px;top:181px" width="26" height="26" viewBox="0 0 26 26"><path d="M12.5,0L12.5,23M2,10.5L25,10.5" stroke="#808080" stroke-width="1"/><rect x="12.5" y="10.5" width="10" height="10" fill="#a4a4a4" stroke="#000" stroke-width="1.3"/><g fill="#000"><rect x="14.5" y="12.5" width="1" height="1"/><rect x="19.5" y="12.5" width="1" height="1"/><rect x="14.5" y="17.5" width="1" height="1"/><rect x="19.5" y="17.5" width="1" height="1"/></g><circle cx="12.5" cy="10.5" r="1.4" fill="#fff" stroke="#000" stroke-width="1"/></svg><svg class="a" style="left:33px;top:181px" width="26" height="26" viewBox="0 0 26 26"><path d="M17.5,0L17.5,23M2,15.5L26,15.5" stroke="#808080" stroke-width="1"/><rect x="12.5" y="10.5" width="10" height="10" fill="#a4a4a4" stroke="#000" stroke-width="1.3"/><rect x="16" y="14" width="3" height="3" fill="#fff" stroke="#000" stroke-width=".9"/><g fill="#000"><rect x="14.5" y="12.5" width="1" height="1"/><rect x="19.5" y="12.5" width="1" height="1"/><rect x="14.5" y="17.5" width="1" height="1"/><rect x="19.5" y="17.5" width="1" height="1"/></g></svg><svg class="a" style="left:4px;top:215px" width="26" height="26" viewBox="0 0 26 26"><path d="M12.5,0L12.5,23M2,15.5L25,15.5" stroke="#808080" stroke-width="1"/><rect x="12.5" y="10.5" width="10" height="10" fill="#a4a4a4" stroke="#000" stroke-width="1.3"/><g fill="#000"><rect x="14.5" y="12.5" width="1" height="1"/><rect x="19.5" y="12.5" width="1" height="1"/><rect x="14.5" y="17.5" width="1" height="1"/><rect x="19.5" y="17.5" width="1" height="1"/></g><circle cx="12.5" cy="15.5" r="1.4" fill="#fff" stroke="#000" stroke-width="1"/></svg><svg class="a" style="left:33px;top:215px" width="26" height="26" viewBox="0 0 26 26"><path d="M3,13.5L8,13.5" stroke="#c8c8c8"/></svg><svg class="a" style="left:4px;top:246px" width="26" height="26" viewBox="0 0 26 26"><rect x="8" y="2" width="5" height="9" fill="#909090" stroke="#000"/><path d="M15,3L15,8M13,6L15,9L17,6" stroke="#000" fill="none"/><rect x="9.5" y="9" width="2" height="2" fill="#0000e0"/><path d="M1,12L25,12M2,14L2,24M6,14L6,24M20,14L20,24M24,14L24,24" stroke="#000"/><rect x="7" y="15" width="12" height="8" fill="#fff" stroke="#000"/><text x="8" y="22" font-size="8" font-family="Liberation Sans">C1</text></svg><svg class="a" style="left:33px;top:246px" width="26" height="26" viewBox="0 0 26 26"><path d="M1,5L25,5M1,21L25,21" stroke="#000" stroke-width="1.2"/><rect x="9" y="3" width="7" height="20" fill="#8a7a20" stroke="#000"/><rect x="10.5" y="3" width="4" height="3" fill="#0000e0"/><rect x="10.5" y="20" width="4" height="3" fill="#0000e0"/><path d="M20,18L20,9M18,11L20,8L22,11" stroke="#000" fill="none"/><path d="M3,22L3,25M23,22L23,25" stroke="#000"/></svg><svg class="a" style="left:4px;top:280px" width="26" height="26" viewBox="0 0 26 26"><path d="M3,20L12,12L17,17L9,25Z" fill="#000"/><path d="M12,12L20,4L24,8L17,17Z" fill="#fff" stroke="#000"/><path d="M14,10L21,3M16,12L23,5M18,14L25,7" stroke="#808080"/></svg><svg class="a" style="left:33px;top:280px" width="26" height="26" viewBox="0 0 26 26"><path d="M3,13.5L8,13.5" stroke="#c8c8c8"/></svg><svg class="a" style="left:4px;top:313px" width="26" height="26" viewBox="0 0 26 26"><path d="M3,14L13,4" stroke="#000"/><rect x="13" y="2" width="9" height="9" fill="#909090" stroke="#000"/><rect x="3" y="15" width="9" height="9" fill="#fff" stroke="#a0a0a0" stroke-dasharray="1,1"/><path d="M4,23L11,16" stroke="#a0a0a0"/></svg><svg class="a" style="left:33px;top:313px" width="26" height="26" viewBox="0 0 26 26"><rect x="7" y="3" width="8" height="8" transform="rotate(45 11 7)" fill="#909090" stroke="#000"/><path d="M4,17L11,11L14,16" stroke="#000" fill="none"/><rect x="15" y="16" width="8" height="8" fill="#fff" stroke="#a0a0a0" stroke-dasharray="1,1"/></svg><svg class="a" style="left:4px;top:347px" width="26" height="26" viewBox="0 0 26 26"><rect x="2" y="3" width="8" height="8" fill="#909090" stroke="#000"/><path d="M6,11L6,16L12,14" stroke="#000" fill="none"/><text x="13" y="8" font-size="8" font-family="Liberation Sans">90</text><rect x="12" y="16" width="8" height="8" fill="#fff" stroke="#a0a0a0" stroke-dasharray="1,1"/></svg><svg class="a" style="left:33px;top:347px" width="26" height="26" viewBox="0 0 26 26"><path d="M3,13.5L8,13.5" stroke="#c8c8c8"/></svg><svg class="a" style="left:4px;top:381px" width="26" height="26" viewBox="0 0 26 26"><path d="M3,12L12,4" stroke="#000"/><path d="M12,4L9,4M12,4L12,7" stroke="#000"/><text x="13" y="9" font-size="8" font-family="Liberation Sans">C1</text><text x="1" y="23" font-size="8" fill="#a0a0a0" font-family="Liberation Sans">C1</text><rect x="12" y="13" width="10" height="10" fill="#909090" stroke="#000"/><rect x="16" y="17" width="2" height="2" fill="#0000e0"/></svg><svg class="a" style="left:33px;top:381px" width="26" height="26" viewBox="0 0 26 26"><path d="M3,12L12,4" stroke="#000"/><path d="M12,4L9,4M12,4L12,7" stroke="#000"/><text x="13" y="9" font-size="8" font-family="Liberation Sans">C1</text><text x="1" y="23" font-size="8" fill="#a0a0a0" font-family="Liberation Sans">C1</text><rect x="12" y="13" width="10" height="10" fill="#fff" stroke="#e00000" stroke-width="1.2"/><rect x="16" y="17" width="2" height="2" fill="#0000e0"/><circle cx="12" cy="13" r="1.5" fill="#fff" stroke="#e00000"/></svg><svg class="a" style="left:4px;top:414px" width="26" height="26" viewBox="0 0 26 26"><path d="M3,12L12,4" stroke="#000"/><text x="13" y="9" font-size="7" font-family="Liberation Sans">101</text><text x="0" y="23" font-size="7" fill="#a0a0a0" font-family="Liberation Sans">101</text><rect x="12" y="13" width="10" height="10" fill="#909090" stroke="#000"/><rect x="16" y="17" width="2" height="2" fill="#0000e0"/></svg><svg class="a" style="left:33px;top:414px" width="26" height="26" viewBox="0 0 26 26"><path d="M3,13.5L8,13.5" stroke="#c8c8c8"/></svg><svg class="a" style="left:4px;top:452px" width="26" height="26" viewBox="0 0 26 26"><path d="M6,5L14,5M12,3L14,5L12,7" stroke="#000" fill="none"/><rect x="7" y="10" width="11" height="11" fill="#909090" stroke="#000"/><rect x="9" y="8" width="4" height="2" fill="#000"/></svg><svg class="a" style="left:33px;top:452px" width="26" height="26" viewBox="0 0 26 26"><rect x="3" y="3" width="13" height="13" fill="#fff" stroke="#000" stroke-width="2"/><rect x="9" y="9" width="13" height="13" fill="#fff" stroke="#000" stroke-width="2"/></svg><svg class="a" style="left:4px;top:485px" width="26" height="26" viewBox="0 0 26 26"><text x="1" y="10" font-size="10" font-family="Liberation Sans" fill="#000">C</text><path d="M9,6L12,9L19,2" stroke="#e00000" stroke-width="2" fill="none"/><rect x="8" y="13" width="12" height="10" fill="#fff" stroke="#000"/><path d="M9,22L19,14M9,18L14,14M14,22L19,18" stroke="#000"/></svg><svg class="a" style="left:33px;top:485px" width="26" height="26" viewBox="0 0 26 26"><path d="M3,13.5L8,13.5" stroke="#c8c8c8"/></svg><svg class="a" style="left:4px;top:517px" width="26" height="26" viewBox="0 0 26 26"><rect x="2" y="2" width="6" height="6" fill="#fff" stroke="#000"/><path d="M6,7L14,15M12,15L15,15L15,12" stroke="#000" fill="none"/><path d="M3,22L23,22M8,25L24,9" stroke="#000"/></svg><svg class="a" style="left:33px;top:517px" width="26" height="26" viewBox="0 0 26 26"><text x="1" y="10" font-size="8" font-family="Liberation Sans">C</text><rect x="7" y="3" width="17" height="6" fill="#fff" stroke="#000"/><path d="M9,5L22,5M9,7L22,7" stroke="#000"/><path d="M13,11L17,11L15,14Z" fill="#000"/><text x="1" y="22" font-size="8" fill="#0000c0" font-family="Liberation Sans">C</text><path d="M8,17L24,17" stroke="#e00000" stroke-width="1.5"/><path d="M8,20L24,20" stroke="#20a020" stroke-width="1.5"/><path d="M8,23L24,23" stroke="#e08000" stroke-width="1.5"/></svg><svg class="a" style="left:4px;top:552px" width="26" height="26" viewBox="0 0 26 26"><path d="M4,24L7,16L20,3L24,7L11,20Z" fill="#e8e000" stroke="#000"/><path d="M4,24L7,16L11,20Z" fill="#c09060" stroke="#000"/><path d="M4,24L5.5,20.5L7.5,22.5Z" fill="#000"/></svg><svg class="a" style="left:33px;top:552px" width="26" height="26" viewBox="0 0 26 26"><path d="M3,13.5L8,13.5" stroke="#c8c8c8"/></svg><svg class="a" style="left:4px;top:586px" width="26" height="26" viewBox="0 0 26 26"><rect x="1" y="12" width="22" height="7" fill="#909090" stroke="#000"/><rect x="15" y="4" width="7" height="15" fill="#909090" stroke="#000"/><path d="M4,20L4,25M2,23L6,23M18,6L18,11M16,8L20,8" stroke="#fff"/><path d="M4,21L4,25M2,23L6,23" stroke="#000"/></svg><svg class="a" style="left:33px;top:586px" width="26" height="26" viewBox="0 0 26 26"><path d="M4,3L4,23M22,3L22,23" stroke="#e06000" stroke-width="2" stroke-dasharray="2,1"/><path d="M6,4L3,4M6,22L3,22M20,4L23,4M20,22L23,22" stroke="#000"/><path d="M8,3L13,13L8,23" stroke="#0000c0" fill="none"/><path d="M14,13L19,10L19,16Z" fill="#0000c0"/></svg><svg class="a" style="left:4px;top:620px" width="26" height="26" viewBox="0 0 26 26"><rect x="3" y="2" width="20" height="16" fill="#d0d0d0" stroke="#000"/><rect x="6" y="5" width="14" height="10" fill="#006080"/><rect x="9" y="8" width="6" height="4" fill="#e8e000"/><rect x="2" y="20" width="22" height="5" fill="#fff" stroke="#000"/><rect x="4" y="22" width="3" height="2" fill="#20c020"/></svg><svg class="a" style="left:33px;top:620px" width="26" height="26" viewBox="0 0 26 26"><path d="M3,13.5L8,13.5" stroke="#c8c8c8"/></svg><svg class="a" style="left:4px;top:655px" width="26" height="26" viewBox="0 0 26 26"><path d="M3,3L3,13M1,10L3,13L5,10" stroke="#000" fill="none"/><text x="6" y="8" font-size="7" font-family="Liberation Sans">9</text><path d="M8,22L10,18L17,11L19,13L12,20Z" fill="#fff" stroke="#000" stroke-width="1"/><path d="M16,10L20,14" stroke="#000" stroke-width="2"/><circle cx="21" cy="9" r="2.8" fill="#000"/></svg><svg class="a" style="left:33px;top:655px" width="26" height="26" viewBox="0 0 26 26"><path d="M3,3L3,13M1,10L3,13L5,10" stroke="#000" fill="none"/><text x="6" y="8" font-size="7" font-family="Liberation Sans">9</text><path d="M8,22L10,18L17,11L19,13L12,20Z" fill="#e00000" stroke="#000" stroke-width="1"/><path d="M16,10L20,14" stroke="#000" stroke-width="2"/><circle cx="21" cy="9" r="2.8" fill="#000"/></svg><svg class="a" style="left:4px;top:689px" width="26" height="26" viewBox="0 0 26 26"><rect x="2" y="2" width="9" height="6" fill="#a0a0a0" stroke="#000"/><path d="M8,22L10,18L17,11L19,13L12,20Z" fill="#fff" stroke="#000" stroke-width="1"/><path d="M16,10L20,14" stroke="#000" stroke-width="2"/><circle cx="21" cy="9" r="2.8" fill="#000"/></svg><svg class="a" style="left:33px;top:689px" width="26" height="26" viewBox="0 0 26 26"><rect x="2" y="2" width="9" height="6" fill="#a0a0a0" stroke="#000"/><path d="M8,22L10,18L17,11L19,13L12,20Z" fill="#e00000" stroke="#000" stroke-width="1"/><path d="M16,10L20,14" stroke="#000" stroke-width="2"/><circle cx="21" cy="9" r="2.8" fill="#000"/></svg><svg class="a" style="left:4px;top:723px" width="26" height="26" viewBox="0 0 26 26"><path d="M9,5Q2,13 9,21Z" fill="#909090" stroke="#000"/><path d="M7,13L11,13" stroke="#e00000" stroke-width="2"/><rect x="12" y="6" width="8" height="14" fill="#c8b800" stroke="#000"/><path d="M20,6L24,3L24,23L20,20" fill="#f0f0f0" stroke="#000"/></svg><svg class="a" style="left:33px;top:723px" width="26" height="26" viewBox="0 0 26 26"><path d="M3,13.5L8,13.5" stroke="#c8c8c8"/></svg><svg class="a" style="left:4px;top:756px" width="26" height="26" viewBox="0 0 26 26"><path d="M5,21L7,17L14,10L16,12L9,19Z" fill="#fff" stroke="#000" stroke-width="1"/><path d="M13,9L17,13" stroke="#000" stroke-width="2"/><circle cx="18" cy="8" r="2.8" fill="#000"/></svg><div class="a" style="left:33px;top:756px;width:27px;height:27px;border:1px solid #3399ff;background:#cce4f8"></div><svg class="a" style="left:33px;top:756px" width="26" height="26" viewBox="0 0 26 26"><path d="M5,21L7,17L14,10L16,12L9,19Z" fill="#e00000" stroke="#000" stroke-width="1"/><path d="M13,9L17,13" stroke="#000" stroke-width="2"/><circle cx="18" cy="8" r="2.8" fill="#000"/></svg><svg class="a" style="left:4px;top:792px" width="26" height="26" viewBox="0 0 26 26"><path d="M3,2L3,12M1,2L5,2M3,8L9,8" stroke="#000"/><text x="3" y="9" font-size="8" font-family="Liberation Sans" fill="#606060">I</text><rect x="11" y="11" width="11" height="11" fill="#fff" stroke="#0000c0"/><text x="12.5" y="20.5" font-size="10" font-weight="bold" font-family="Liberation Sans" fill="#0000c0">A</text></svg><div id="canvas" class="a"></div><svg class="a" style="left:0;top:0" width="1920" height="1079" viewBox="0 0 1920 1079"><defs><clipPath id="cv"><rect x="67" y="69" width="1851" height="944"/></clipPath></defs><g clip-path="url(#cv)" font-family="Liberation Sans, sans-serif" shape-rendering="crispEdges"><clipPath id="c11"><rect x="434.5" y="203.5" width="40.0" height="262.0"/></clipPath><g clip-path="url(#c11)" fill="none" stroke="#c4c4c4" stroke-width="1"><polyline points="437.0,205.3 439.9,200.3 437.7,199.8 443.5,206.9 443.1,216.1 439.9,217.3 436.2,212.8 437.0,205.3"/><polyline points="446.0,201.3 467.6,200.1 473.3,206.2 473.4,216.4 448.2,217.8 445.7,214.9 446.0,201.3"/><polyline points="436.5,221.5 443.5,219.5 445.1,220.4 446.1,227.8 439.2,233.6 441.2,234.5 436.6,228.6 436.5,221.5"/><polyline points="447.0,221.5 470.2,222.5 471.9,225.7 473.0,230.8 467.9,235.1 452.6,233.8 448.6,230.2 447.0,221.5"/><polyline points="436.7,245.4 443.3,238.7 455.7,238.9 460.1,245.5 459.2,251.6 437.2,248.8 436.7,245.4"/><polyline points="462.8,238.5 467.2,237.0 471.7,243.1 472.4,245.7 469.6,247.5 462.6,245.4 462.8,238.5"/><polyline points="434.8,251.1 461.8,252.7 459.7,263.9 439.6,266.1 437.6,262.7 434.8,251.1"/><polyline points="461.7,256.3 468.6,254.5 472.8,258.3 474.5,265.4 464.8,268.1 461.7,256.3"/><polyline points="436.9,273.4 441.3,270.9 446.9,269.4 446.1,284.9 434.5,286.5 436.9,273.4"/><polyline points="449.5,270.7 452.3,268.6 469.9,268.1 471.7,269.2 473.1,284.8 448.2,285.9 449.5,270.7"/><polyline points="436.3,293.3 441.0,290.4 466.3,292.1 465.1,298.6 462.0,301.6 436.7,300.8 436.3,293.3"/><polyline points="467.7,292.5 470.0,289.8 471.3,290.9 472.2,298.7 470.4,301.7 471.1,302.1 468.9,300.3 467.7,292.5"/><polyline points="436.6,304.9 438.1,302.0 439.5,302.7 444.8,307.0 446.4,321.5 437.9,321.7 436.6,304.9"/><polyline points="447.0,303.8 473.8,305.8 471.7,320.1 468.3,324.5 446.2,326.3 447.0,303.8"/><polyline points="438.6,327.5 439.4,328.8 443.1,331.1 440.8,350.3 440.6,348.1 436.0,345.5 438.6,327.5"/><polyline points="448.8,328.0 470.1,326.6 471.2,352.0 446.6,352.6 448.8,328.0"/><polyline points="435.2,354.2 472.4,352.8 472.3,367.2 467.2,372.1 436.2,372.7 435.2,354.2"/><polyline points="437.5,376.8 442.5,370.7 459.9,371.4 464.0,376.1 466.5,388.3 434.2,388.7 437.5,376.8"/><polyline points="468.0,374.7 471.6,371.3 471.0,370.5 472.0,390.2 471.2,390.2 468.0,387.0 468.0,374.7"/><polyline points="438.3,397.0 441.3,394.4 444.7,399.0 444.1,405.5 439.9,409.6 441.1,408.7 437.1,402.8 438.3,397.0"/><polyline points="449.5,390.3 473.6,392.3 470.7,408.5 449.3,410.7 447.2,407.8 449.5,390.3"/><polyline points="434.6,412.5 472.1,416.1 472.3,423.3 468.6,426.4 438.5,425.7 434.6,412.5"/><polyline points="434.2,429.6 443.1,429.4 441.5,443.5 439.2,444.5 434.2,429.6"/><polyline points="446.9,429.4 467.5,428.2 472.8,433.9 471.4,440.7 467.3,444.9 450.2,445.4 446.3,441.7 446.9,429.4"/><polyline points="437.4,448.9 465.9,445.3 464.6,460.0 438.3,461.0 435.9,458.5 437.4,448.9"/><polyline points="469.2,449.7 473.0,450.9 472.8,456.6 468.8,461.2 469.4,462.1 465.9,460.1 469.2,449.7"/><polyline points="437.0,463.4 462.5,462.0 462.9,477.6 461.2,480.1 434.4,481.8 437.0,463.4"/><polyline points="466.6,466.7 471.0,467.0 473.5,478.3 468.6,479.0 466.6,466.7"/></g><clipPath id="c12"><rect x="434.5" y="598.5" width="40.0" height="183.0"/></clipPath><g clip-path="url(#c12)" fill="none" stroke="#c4c4c4" stroke-width="1"><polyline points="437.1,598.9 442.1,593.8 455.5,594.3 459.1,597.9 459.6,608.2 455.9,612.1 442.4,612.3 437.7,608.3 437.1,598.9"/><polyline points="463.6,596.5 467.0,593.0 466.8,593.7 472.5,599.1 472.8,612.1 471.1,613.6 467.2,613.6 462.6,609.3 463.6,596.5"/><polyline points="436.3,617.1 461.3,617.5 464.5,620.8 464.4,624.2 460.2,629.7 440.0,629.0 436.7,626.5 436.3,617.1"/><polyline points="468.4,622.0 474.9,617.7 469.8,616.6 471.8,619.0 473.3,629.7 467.8,632.2 474.5,633.4 468.1,628.1 468.4,622.0"/><polyline points="437.4,639.2 440.8,636.5 462.0,635.0 461.3,649.5 457.1,652.9 439.5,653.1 436.8,649.4 437.4,639.2"/><polyline points="463.9,636.9 473.8,636.8 472.8,649.0 467.9,652.8 465.8,654.4 463.9,636.9"/><polyline points="437.6,657.1 440.0,653.7 461.4,653.2 464.6,657.4 464.4,668.2 460.0,674.2 437.5,676.0 437.6,657.1"/><polyline points="467.9,657.5 472.0,652.9 465.5,653.1 471.9,658.6 473.1,670.6 469.8,672.8 473.6,673.0 468.4,669.8 467.9,657.5"/><polyline points="437.0,684.6 441.5,679.3 467.0,678.9 472.0,683.5 472.4,696.8 468.5,700.8 442.6,700.0 437.4,695.3 437.0,684.6"/><polyline points="438.2,702.7 471.1,702.7 472.1,714.8 468.1,717.1 442.6,716.8 437.4,712.6 438.2,702.7"/><polyline points="438.4,717.5 462.2,718.0 464.0,736.3 461.6,738.0 440.7,738.8 435.9,735.7 438.4,717.5"/><polyline points="468.9,721.5 473.0,719.7 471.7,739.4 469.2,738.7 468.9,721.5"/><polyline points="436.3,743.7 467.0,746.0 464.9,763.8 462.5,765.9 439.5,767.1 437.6,765.3 436.3,743.7"/><polyline points="469.9,747.3 471.4,744.9 467.8,743.9 471.5,748.8 474.8,768.2 468.3,765.8 469.9,747.3"/><polyline points="437.4,771.9 441.3,766.3 466.7,766.4 464.2,784.2 459.1,788.7 434.8,789.2 437.4,771.9"/><polyline points="466.8,774.4 471.5,769.6 472.8,770.7 472.0,788.8 468.7,791.0 470.0,790.4 467.2,788.1 466.8,774.4"/></g><clipPath id="c13"><rect x="474.5" y="243.5" width="54.0" height="40.0"/></clipPath><g clip-path="url(#c13)" fill="none" stroke="#c4c4c4" stroke-width="1"><polyline points="459.6,246.6 462.1,243.9 513.1,244.7 515.2,247.7 516.8,248.0 511.3,253.3 460.6,251.6 459.6,246.6"/><polyline points="519.2,244.9 572.6,246.3 577.3,249.9 576.9,256.2 524.2,254.3 519.0,250.3 519.2,244.9"/><polyline points="469.3,261.2 473.2,257.5 503.7,257.5 507.9,263.2 508.1,267.1 505.2,268.3 476.1,269.6 469.3,264.2 469.3,261.2"/><polyline points="511.4,259.4 539.9,258.4 543.9,263.1 543.5,265.1 540.2,267.4 515.5,268.0 509.9,263.2 511.4,259.4"/><polyline points="467.2,274.2 470.0,270.7 480.5,270.5 486.8,277.1 486.7,284.2 469.8,284.1 468.1,280.7 467.2,274.2"/><polyline points="489.5,272.9 535.9,273.3 538.9,276.2 539.6,277.8 488.6,280.2 489.5,272.9"/></g><clipPath id="c14"><rect x="649.5" y="243.5" width="150.5" height="40.0"/></clipPath><g clip-path="url(#c14)" fill="none" stroke="#c4c4c4" stroke-width="1"><polyline points="635.7,243.8 696.0,246.2 697.3,249.0 693.1,252.8 633.1,252.5 635.7,243.8"/><polyline points="699.1,247.1 704.2,244.2 747.4,244.9 748.7,251.8 700.6,252.1 699.1,247.1"/><polyline points="750.6,251.6 754.9,246.4 768.3,246.1 769.7,248.3 764.7,253.2 751.3,253.0 750.6,251.6"/><polyline points="773.3,250.1 778.6,244.6 808.0,244.5 813.1,251.1 812.8,251.0 808.8,253.2 778.3,253.1 773.6,248.1 773.3,250.1"/><polyline points="642.7,255.6 703.9,256.4 707.9,259.0 708.0,263.8 703.2,268.3 643.9,270.9 642.7,255.6"/><polyline points="711.5,260.2 714.6,256.2 763.6,255.3 762.8,270.0 712.3,271.2 709.8,267.9 711.5,260.2"/><polyline points="765.1,256.1 800.3,256.0 803.8,258.6 801.9,269.8 765.6,271.3 765.1,256.1"/><polyline points="635.6,275.7 637.8,271.4 677.5,269.0 676.9,283.4 636.5,283.2 635.6,275.7"/><polyline points="680.8,276.6 684.1,274.6 694.1,275.0 698.1,278.5 696.1,283.1 687.5,281.3 681.4,274.4 680.8,276.6"/><polyline points="703.0,275.4 705.0,273.2 740.7,272.0 736.7,282.7 703.6,282.6 703.0,275.4"/><polyline points="743.0,276.8 744.2,274.8 787.5,274.3 791.7,277.1 791.1,274.6 785.8,281.3 743.7,280.6 743.0,276.8"/><polyline points="792.7,273.2 819.6,274.4 819.9,276.8 815.8,281.4 798.2,282.5 793.9,278.1 792.7,273.2"/></g><clipPath id="c15"><rect x="60" y="781.5" width="24.5" height="67.0"/></clipPath><g clip-path="url(#c15)" fill="none" stroke="#c4c4c4" stroke-width="1"><polyline points="59.6,784.4 118.7,781.3 121.2,784.6 123.6,801.9 63.5,799.9 57.7,794.5 59.6,784.4"/><polyline points="60.5,801.2 105.1,801.7 100.1,809.3 65.9,811.6 59.3,805.4 60.5,801.2"/><polyline points="39.6,817.9 44.9,812.1 58.4,811.3 58.8,824.9 53.5,829.3 45.7,829.4 38.8,823.8 39.6,817.9"/><polyline points="61.4,813.2 98.2,813.8 96.9,828.1 91.1,833.6 62.3,834.4 61.4,813.2"/><polyline points="47.2,836.7 49.9,833.9 96.6,832.7 97.7,846.7 44.3,845.5 47.2,836.7"/></g><clipPath id="c16"><rect x="245.5" y="781.5" width="269.0" height="67.0"/></clipPath><g clip-path="url(#c16)" fill="none" stroke="#c4c4c4" stroke-width="1"><polyline points="233.5,783.3 269.0,784.0 271.7,787.8 271.7,789.7 264.6,794.8 235.0,793.5 233.5,783.3"/><polyline points="274.8,787.3 277.8,781.8 306.3,784.2 303.2,795.2 277.5,797.4 275.0,792.2 274.8,787.3"/><polyline points="307.9,789.1 313.2,782.7 361.6,783.4 364.8,786.9 364.7,795.2 362.0,797.8 306.6,795.5 307.9,789.1"/><polyline points="370.3,780.2 389.7,783.6 386.9,788.7 381.8,793.9 366.1,792.1 370.3,780.2"/><polyline points="390.6,779.5 422.3,782.7 424.8,783.9 424.0,791.3 421.0,796.4 397.1,795.6 390.2,789.6 390.6,779.5"/><polyline points="427.2,788.3 431.5,784.3 469.8,785.0 476.2,790.9 476.2,797.2 433.1,797.7 427.8,792.7 427.2,788.3"/><polyline points="480.0,787.1 482.0,784.1 529.9,784.1 534.3,789.7 533.5,788.7 528.2,795.0 478.1,794.1 480.0,787.1"/><polyline points="228.2,800.0 284.9,800.0 283.1,809.9 279.5,814.6 229.0,814.2 227.1,812.3 228.2,800.0"/><polyline points="288.1,795.9 347.6,796.3 348.2,808.4 345.4,811.2 288.2,813.4 288.1,795.9"/><polyline points="352.0,798.3 385.6,800.0 386.9,802.4 387.7,806.4 382.3,811.5 352.7,809.3 352.0,798.3"/><polyline points="390.6,803.6 396.2,798.5 455.3,800.9 454.9,808.7 449.1,814.0 393.8,813.4 390.6,803.6"/><polyline points="459.2,799.9 511.4,797.1 515.0,801.8 515.5,809.5 511.7,815.6 458.0,813.8 459.2,799.9"/><polyline points="225.3,816.3 256.4,818.1 259.1,821.3 259.6,830.3 228.0,828.9 223.2,821.6 225.3,816.3"/><polyline points="265.9,817.2 283.4,815.6 288.9,820.7 287.0,827.6 267.1,828.6 262.9,826.6 265.9,817.2"/><polyline points="291.8,816.9 293.0,814.9 305.1,814.4 307.8,816.2 308.8,823.9 303.6,827.1 295.8,828.6 290.7,824.4 291.8,816.9"/><polyline points="309.2,817.1 366.3,820.3 364.7,825.3 358.7,830.6 308.8,828.2 309.2,817.1"/><polyline points="367.7,817.3 429.6,813.9 433.1,825.8 427.9,829.9 371.5,829.7 367.0,825.4 367.7,817.3"/><polyline points="433.9,819.0 447.4,819.1 450.8,821.1 451.4,826.2 445.7,832.0 440.2,831.6 435.1,827.0 433.9,819.0"/><polyline points="454.6,817.0 456.2,813.9 479.6,813.6 482.1,832.2 456.4,829.4 454.3,826.0 454.6,817.0"/><polyline points="486.3,816.4 521.1,813.7 520.5,826.2 514.7,832.3 486.4,832.0 484.5,829.0 486.3,816.4"/><polyline points="243.7,833.7 273.2,831.7 278.8,838.2 277.1,842.6 274.8,844.0 245.5,844.8 241.5,841.3 243.7,833.7"/><polyline points="281.5,831.3 322.0,831.8 327.0,837.5 328.0,845.8 324.1,848.7 279.7,848.4 281.5,831.3"/><polyline points="330.1,837.8 335.6,834.1 344.2,834.3 348.0,837.0 349.2,843.9 345.3,847.0 333.6,846.8 330.2,844.0 330.1,837.8"/><polyline points="351.2,831.0 391.6,833.5 388.0,846.9 350.8,846.5 351.2,831.0"/><polyline points="394.3,836.1 410.0,835.1 414.9,839.2 414.1,845.4 391.6,849.1 394.3,836.1"/><polyline points="419.4,832.4 476.7,830.7 480.2,835.0 479.5,841.2 475.4,846.1 417.6,847.0 419.4,832.4"/><polyline points="483.0,839.8 488.7,834.0 495.6,835.4 500.8,840.2 499.4,846.8 482.6,845.0 483.0,839.8"/><polyline points="502.9,829.8 536.4,830.8 534.4,846.4 505.0,847.4 502.9,829.8"/></g><clipPath id="c17"><rect x="649.5" y="781.5" width="150.5" height="67.0"/></clipPath><g clip-path="url(#c17)" fill="none" stroke="#c4c4c4" stroke-width="1"><polyline points="643.7,787.1 645.6,784.5 692.4,784.3 697.9,789.0 698.8,795.5 644.3,799.7 643.7,787.1"/><polyline points="699.3,781.7 725.2,786.4 726.0,793.8 719.2,797.9 705.0,799.1 700.0,793.7 699.3,781.7"/><polyline points="728.9,781.9 781.0,782.9 786.9,787.9 787.6,791.9 781.8,797.7 727.6,794.3 728.9,781.9"/><polyline points="790.6,787.2 793.8,784.1 839.9,783.4 841.9,797.7 790.6,796.0 790.6,787.2"/><polyline points="646.4,804.6 652.5,799.3 667.0,799.2 674.2,804.7 672.7,811.2 670.7,813.3 648.6,813.7 646.3,810.4 646.4,804.6"/><polyline points="677.4,805.6 682.4,799.7 714.2,800.4 715.6,803.2 716.7,810.7 711.7,814.6 678.2,813.9 677.4,805.6"/><polyline points="717.6,800.8 753.0,800.2 751.7,810.8 746.6,814.4 720.9,814.7 717.6,800.8"/><polyline points="756.0,796.4 801.8,799.9 806.4,805.3 804.7,814.1 753.5,814.7 756.0,796.4"/><polyline points="628.3,818.1 680.9,818.6 685.2,821.1 683.9,826.1 679.9,829.7 628.8,829.7 628.3,818.1"/><polyline points="686.9,821.0 691.1,818.0 714.9,819.4 719.5,821.2 719.0,827.4 715.3,831.8 691.2,831.4 687.3,827.7 686.9,821.0"/><polyline points="720.6,821.2 780.6,819.1 782.3,833.5 724.8,831.4 721.4,828.3 720.6,821.2"/><polyline points="785.3,819.8 786.8,818.5 818.3,817.6 824.4,824.7 821.8,831.9 786.4,834.7 785.3,819.8"/><polyline points="633.6,834.4 683.6,835.5 685.5,836.6 685.3,841.2 681.8,845.0 635.8,846.0 632.4,841.4 633.6,834.4"/><polyline points="688.1,835.9 710.1,835.6 715.1,839.9 714.8,843.3 711.5,848.3 693.1,848.5 689.9,843.7 688.1,835.9"/><polyline points="717.8,842.3 721.8,838.4 777.9,836.9 779.6,838.7 779.3,843.6 776.6,847.3 721.0,847.9 718.5,843.3 717.8,842.3"/><polyline points="782.3,836.5 827.3,837.3 824.9,844.1 821.9,848.0 780.9,849.6 782.3,836.5"/></g><clipPath id="c18"><rect x="1240.5" y="60" width="67.0" height="59"/></clipPath><g clip-path="url(#c18)" fill="none" stroke="#c4c4c4" stroke-width="1"><polyline points="1242.6,62.1 1246.1,59.1 1301.2,59.4 1306.2,62.8 1305.5,72.5 1300.7,78.8 1241.2,77.0 1242.6,62.1"/><polyline points="1242.8,84.1 1250.8,80.4 1251.1,86.0 1246.4,90.6 1247.3,91.1 1242.7,85.8 1242.8,84.1"/><polyline points="1254.4,83.9 1305.5,80.2 1304.5,89.2 1302.8,90.9 1255.9,93.0 1254.4,83.9"/><polyline points="1244.7,96.4 1287.8,96.1 1289.8,109.0 1285.5,114.0 1246.2,113.4 1241.7,111.0 1244.7,96.4"/><polyline points="1293.6,92.8 1305.6,92.9 1305.8,108.2 1300.0,113.7 1297.2,114.3 1292.1,109.1 1293.6,92.8"/><polyline points="1244.9,118.7 1261.1,117.5 1257.4,134.0 1243.7,137.8 1244.9,118.7"/><polyline points="1259.8,115.8 1307.6,117.9 1305.3,134.1 1302.7,136.2 1263.6,134.8 1259.8,115.8"/></g><rect x="434.5" y="203.5" width="40.0" height="262.0" fill="none" stroke="#8000ff" stroke-width="1"/><rect x="434.5" y="598.5" width="40.0" height="250.0" fill="none" stroke="#8000ff" stroke-width="1"/><rect x="434.5" y="243.5" width="94.0" height="40.0" fill="none" stroke="#8000ff" stroke-width="1"/><rect x="649.5" y="243.5" width="150.5" height="40.0" fill="none" stroke="#8000ff" stroke-width="1"/><rect x="60" y="781.5" width="24.5" height="67.0" fill="none" stroke="#8000ff" stroke-width="1"/><rect x="245.5" y="781.5" width="269.0" height="67.0" fill="none" stroke="#8000ff" stroke-width="1"/><rect x="649.5" y="781.5" width="150.5" height="67.0" fill="none" stroke="#8000ff" stroke-width="1"/><rect x="1240.5" y="60" width="67.0" height="70" fill="none" stroke="#8000ff" stroke-width="1"/><line x1="434.5" y1="60" x2="434.5" y2="203" stroke="#20a000" stroke-width="1"/><line x1="474.5" y1="60" x2="474.5" y2="203" stroke="#20a000" stroke-width="1"/><line x1="434.5" y1="466" x2="434.5" y2="598" stroke="#20a000" stroke-width="1"/><line x1="474.5" y1="466" x2="474.5" y2="598" stroke="#20a000" stroke-width="1"/><line x1="529" y1="243.5" x2="649" y2="243.5" stroke="#20a000" stroke-width="1"/><line x1="529" y1="283.5" x2="649" y2="283.5" stroke="#20a000" stroke-width="1"/><line x1="85" y1="781.5" x2="245" y2="781.5" stroke="#20a000" stroke-width="1"/><line x1="85" y1="848.5" x2="245" y2="848.5" stroke="#20a000" stroke-width="1"/><line x1="515" y1="781.5" x2="649" y2="781.5" stroke="#20a000" stroke-width="1"/><line x1="515" y1="848.5" x2="649" y2="848.5" stroke="#20a000" stroke-width="1"/><line x1="434.5" y1="203.5" x2="474.5" y2="203.5" stroke="#8000ff" stroke-width="1"/><line x1="434.5" y1="465.5" x2="474.5" y2="465.5" stroke="#8000ff" stroke-width="1"/><line x1="434.5" y1="598.5" x2="474.5" y2="598.5" stroke="#8000ff" stroke-width="1"/><line x1="67" y1="355.5" x2="129.5" y2="431.5" stroke="#e8b878" stroke-width="1"/><line x1="174" y1="487.5" x2="474.5" y2="848.5" stroke="#e8b878" stroke-width="1"/><line x1="474.5" y1="283.5" x2="800" y2="506" stroke="#e8b878" stroke-width="1"/><line x1="1030" y1="68" x2="1096" y2="120" stroke="#e8b878" stroke-width="1"/><circle cx="151" cy="458" r="33.5" fill="none" stroke="#e8b878" stroke-width="1"/><line x1="103" y1="458.5" x2="199" y2="458.5" stroke="#e8b878" stroke-width="1"/><line x1="151.5" y1="410" x2="151.5" y2="424" stroke="#e8b878" stroke-width="1"/><line x1="151.5" y1="492" x2="151.5" y2="506" stroke="#e8b878" stroke-width="1"/><polyline points="259.5,60 259.5,188 286.5,214" fill="none" stroke="#ff00ff" stroke-width="1"/><line x1="286.5" y1="60" x2="286.5" y2="846" stroke="#ff00ff" stroke-width="1"/><line x1="67" y1="536.5" x2="451" y2="536.5" stroke="#ff00ff" stroke-width="1"/><polyline points="321.5,536.5 348,509.5 656,509.5" fill="none" stroke="#ff00ff" stroke-width="1"/><line x1="290" y1="576.5" x2="618" y2="576.5" stroke="#ff00ff" stroke-width="1"/><polyline points="752.5,111 752.5,388.5" fill="none" stroke="#ff00ff" stroke-width="1"/><line x1="752.5" y1="364" x2="779.5" y2="388.5" stroke="#ff00ff" stroke-width="1"/><line x1="779.5" y1="267" x2="779.5" y2="846" stroke="#ff00ff" stroke-width="1"/><polyline points="761,845.5 752.5,845.5 752.5,749 779.5,723" fill="none" stroke="#ff00ff" stroke-width="1"/><polyline points="309,660.5 598,660.5 624.5,687.5" fill="none" stroke="#ff00ff" stroke-width="1"/><line x1="456" y1="687.5" x2="800" y2="687.5" stroke="#ff00ff" stroke-width="1"/><polyline points="269,845.5 259.5,845.5 259.5,714 286.5,688" fill="none" stroke="#ff00ff" stroke-width="1"/><line x1="1168.5" y1="60" x2="1168.5" y2="120" stroke="#ff00ff" stroke-width="1"/><circle cx="528" cy="243" r="4.5" fill="none" stroke="#e0003c" stroke-width="1"/><circle cx="474" cy="465" r="4.5" fill="none" stroke="#e0003c" stroke-width="1"/><circle cx="245" cy="848" r="4.5" fill="none" stroke="#e0003c" stroke-width="1"/><circle cx="474" cy="848" r="4.5" fill="none" stroke="#e0003c" stroke-width="1"/><circle cx="649" cy="848" r="4.5" fill="none" stroke="#e0003c" stroke-width="1"/><path d="M451.5,260.5L456.5,265.5M456.5,260.5L451.5,265.5" stroke="#8080ff" stroke-width="1"/><path d="M471.5,260.5L476.5,265.5M476.5,260.5L471.5,265.5" stroke="#8080ff" stroke-width="1"/><path d="M451.5,280.5L456.5,285.5M456.5,280.5L451.5,285.5" stroke="#8080ff" stroke-width="1"/><path d="M471.5,280.5L476.5,285.5M476.5,280.5L471.5,285.5" stroke="#8080ff" stroke-width="1"/><text x="99" y="118" fill="#ff0000" font-size="28" xml:space="preserve">K</text><text x="119" y="119" fill="#ffe38a" font-size="23">14</text><text x="217" y="119" fill="#ffe38a" font-size="23" text-anchor="end">480/30</text><text x="299" y="352" fill="#ff0000" font-size="28" xml:space="preserve">K</text><text x="319" y="353" fill="#ffe38a" font-size="23">16</text><text x="418.5" y="353" fill="#ffe38a" font-size="23" text-anchor="end">30/195</text><text x="528" y="183" fill="#ff0000" font-size="28" xml:space="preserve">K</text><text x="548" y="184" fill="#ffe38a" font-size="23">19</text><text x="635" y="184" fill="#ffe38a" font-size="23" text-anchor="end">70/30</text><text x="756" y="183" fill="#ff0000" font-size="28" xml:space="preserve">K</text><text x="776" y="184" fill="#ffe38a" font-size="23">1</text><text x="474" y="746" fill="#ff0000" font-size="28" xml:space="preserve">K</text><text x="494" y="747" fill="#ffe38a" font-size="23">15</text><text x="593" y="747" fill="#ffe38a" font-size="23" text-anchor="end">30/185</text><text x="312" y="924" fill="#ff0000" font-size="28" xml:space="preserve">K</text><text x="332" y="925" fill="#ffe38a" font-size="23">2</text><text x="419" y="925" fill="#ffe38a" font-size="23" text-anchor="end">200/50</text><text x="628" y="951" fill="#ff0000" font-size="28" xml:space="preserve">K</text><text x="648" y="952" fill="#ffe38a" font-size="23">3</text><text x="735" y="952" fill="#ffe38a" font-size="23" text-anchor="end">160/50</text><text x="542" y="237.6" fill="#d8f0d0" font-size="23" textLength="105" lengthAdjust="spacingAndGlyphs" xml:space="preserve">Ανω 3Φ20</text><text x="530" y="270.5" fill="#ff4000" font-size="23" xml:space="preserve">Δ</text><text x="546" y="270.5" fill="#d8f0d0" font-size="23" textLength="114" lengthAdjust="spacingAndGlyphs" xml:space="preserve">3.1  30/120</text><text x="515" y="303.5" fill="#d8f0d0" font-size="23" textLength="160" lengthAdjust="spacingAndGlyphs" xml:space="preserve">3Φ20 Πλ. 6Φ12</text><text x="519.5" y="328.5" fill="#d8f0d0" font-size="23" textLength="150" lengthAdjust="spacingAndGlyphs" xml:space="preserve">Σ Φ10/11/11/11</text><text x="515" y="568.7" fill="#ffffff" font-size="23" textLength="103" lengthAdjust="spacingAndGlyphs" xml:space="preserve">Φ8/50 Ανω</text><text x="119" y="776.2" fill="#d8f0d0" font-size="23" textLength="106" lengthAdjust="spacingAndGlyphs" xml:space="preserve">Ανω 5Φ20</text><text x="107" y="821.5" fill="#ff4000" font-size="23" xml:space="preserve">Δ</text><text x="123" y="821.5" fill="#d8f0d0" font-size="23" textLength="114" lengthAdjust="spacingAndGlyphs" xml:space="preserve">4.3  50/120</text><text x="92" y="869.5" fill="#d8f0d0" font-size="23" textLength="160" lengthAdjust="spacingAndGlyphs" xml:space="preserve">5Φ20 Πλ. 6Φ12</text><text x="94" y="892.5" fill="#d8f0d0" font-size="23" textLength="157" lengthAdjust="spacingAndGlyphs" xml:space="preserve">Σ Φ14/13/13/13</text><text x="536" y="776.2" fill="#d8f0d0" font-size="23" textLength="106" lengthAdjust="spacingAndGlyphs" xml:space="preserve">Ανω 5Φ20</text><text x="524" y="821.5" fill="#ff4000" font-size="23" xml:space="preserve">Δ</text><text x="540" y="821.5" fill="#d8f0d0" font-size="23" textLength="113" lengthAdjust="spacingAndGlyphs" xml:space="preserve">4.6  50/120</text><text x="510" y="869.5" fill="#d8f0d0" font-size="23" textLength="159" lengthAdjust="spacingAndGlyphs" xml:space="preserve">5Φ20 Πλ. 6Φ12</text><text x="485" y="892.5" fill="#d8f0d0" font-size="23" textLength="208" lengthAdjust="spacingAndGlyphs" xml:space="preserve">Σ Φ14/11.5/11.5/11.5</text><text x="137" y="453" fill="#ff0030" font-size="20" xml:space="preserve">Π</text><text x="151" y="453" fill="#ffffff" font-size="19" xml:space="preserve">2</text><text x="130" y="480" fill="#ffffff" font-size="19" textLength="40" lengthAdjust="spacingAndGlyphs" xml:space="preserve">h=24</text><text x="109.5" y="529.5" fill="#ffffff" font-size="20.5" textLength="57" lengthAdjust="spacingAndGlyphs" xml:space="preserve">Φ8/17</text><text transform="translate(428,202) rotate(-90)" fill="#d8f0d0" font-size="23" textLength="108" lengthAdjust="spacingAndGlyphs" xml:space="preserve">Ανω 3Φ20</text><text transform="translate(460,213) rotate(-90)" fill="#ff4000" font-size="23" xml:space="preserve">Δ</text><text transform="translate(460,198) rotate(-90)" fill="#d8f0d0" font-size="23" textLength="115" lengthAdjust="spacingAndGlyphs" xml:space="preserve">7.7  30/120</text><text transform="translate(497,227) rotate(-90)" fill="#d8f0d0" font-size="23" textLength="160" lengthAdjust="spacingAndGlyphs" xml:space="preserve">3Φ20 Πλ. 6Φ12</text><text transform="translate(520,226) rotate(-90)" fill="#d8f0d0" font-size="23" textLength="157" lengthAdjust="spacingAndGlyphs" xml:space="preserve">Σ Φ12/12/12/12</text><text transform="translate(746,241) rotate(-90)" fill="#ffffff" font-size="23" textLength="102" lengthAdjust="spacingAndGlyphs" xml:space="preserve">Φ8/50 Ανω</text><text transform="translate(280,482) rotate(-90)" fill="#ffffff" font-size="23" textLength="56" lengthAdjust="spacingAndGlyphs" xml:space="preserve">Φ8/18</text><text transform="translate(428,577) rotate(-90)" fill="#d8f0d0" font-size="23" textLength="106" lengthAdjust="spacingAndGlyphs" xml:space="preserve">Ανω 3Φ20</text><text transform="translate(460,589) rotate(-90)" fill="#ff4000" font-size="23" xml:space="preserve">Δ</text><text transform="translate(460,574) rotate(-90)" fill="#d8f0d0" font-size="23" textLength="114" lengthAdjust="spacingAndGlyphs" xml:space="preserve">7.3  30/120</text><text transform="translate(497,603) rotate(-90)" fill="#d8f0d0" font-size="23" textLength="158" lengthAdjust="spacingAndGlyphs" xml:space="preserve">3Φ20 Πλ. 6Φ12</text><text transform="translate(520,603) rotate(-90)" fill="#d8f0d0" font-size="23" textLength="158" lengthAdjust="spacingAndGlyphs" xml:space="preserve">Σ Φ12/13/13/13</text><text transform="translate(772,588) rotate(-90)" fill="#ffffff" font-size="23" textLength="57" lengthAdjust="spacingAndGlyphs" xml:space="preserve">Φ8/17</text></g></svg><div id="ltgray" class="a"></div><div id="tabs" class="a"></div><div class="a" style="left:66px;top:1013px;width:1852px;height:1px;background:#fff"></div><svg class="a" style="left:0;top:1013px" width="1920" height="22" viewBox="0 1013 1920 22"><line x1="66" y1="1015.5" x2="1918" y2="1015.5" stroke="#808080"/><path d="M1620,1015.5L1627.5,1033L1690.9,1033L1698.4,1015.5" fill="#f0eeee" stroke="#6a6a6a" stroke-width="1"/><path d="M1549,1015.5L1556.5,1033L1620.5,1033L1628,1015.5" fill="#f0eeee" stroke="#6a6a6a" stroke-width="1"/><path d="M1478,1015.5L1485.5,1033L1549.5,1033L1557,1015.5" fill="#f0eeee" stroke="#6a6a6a" stroke-width="1"/><path d="M1407,1015.5L1414.5,1033L1478.5,1033L1486,1015.5" fill="#f0eeee" stroke="#6a6a6a" stroke-width="1"/><path d="M1336,1015.5L1343.5,1033L1407.5,1033L1415,1015.5" fill="#f0eeee" stroke="#6a6a6a" stroke-width="1"/><path d="M1266,1015.5L1273.5,1033L1336.5,1033L1344,1015.5" fill="#f0eeee" stroke="#6a6a6a" stroke-width="1"/><path d="M1194,1015.5L1201.5,1033L1266.5,1033L1274,1015.5" fill="#f0eeee" stroke="#6a6a6a" stroke-width="1"/><path d="M1123,1015.5L1130.5,1033L1194.5,1033L1202,1015.5" fill="#f0eeee" stroke="#6a6a6a" stroke-width="1"/><path d="M1052,1015.5L1059.5,1033L1123.5,1033L1131,1015.5" fill="#f0eeee" stroke="#6a6a6a" stroke-width="1"/><path d="M981,1015.5L988.5,1033L1052.5,1033L1060,1015.5" fill="#f0eeee" stroke="#6a6a6a" stroke-width="1"/><path d="M910,1015.5L917.5,1033L981.5,1033L989,1015.5" fill="#f0eeee" stroke="#6a6a6a" stroke-width="1"/><path d="M839,1015.5L846.5,1033L910.5,1033L918,1015.5" fill="#f0eeee" stroke="#6a6a6a" stroke-width="1"/><path d="M769,1015.5L776.5,1033L839.5,1033L847,1015.5" fill="#f0eeee" stroke="#6a6a6a" stroke-width="1"/><path d="M706,1015.5L713.5,1033L769.5,1033L777,1015.5" fill="#f0eeee" stroke="#6a6a6a" stroke-width="1"/><path d="M644,1015.5L651.5,1033L706.5,1033L714,1015.5" fill="#f0eeee" stroke="#6a6a6a" stroke-width="1"/><path d="M582,1015.5L589.5,1033L644.5,1033L652,1015.5" fill="#f0eeee" stroke="#6a6a6a" stroke-width="1"/><path d="M520,1015.5L527.5,1033L582.5,1033L590,1015.5" fill="#f0eeee" stroke="#6a6a6a" stroke-width="1"/><path d="M458,1015.5L465.5,1033L520.5,1033L528,1015.5" fill="#f0eeee" stroke="#6a6a6a" stroke-width="1"/><path d="M396,1015.5L403.5,1033L458.5,1033L466,1015.5" fill="#f0eeee" stroke="#6a6a6a" stroke-width="1"/><path d="M334,1015.5L341.5,1033L396.5,1033L404,1015.5" fill="#f0eeee" stroke="#6a6a6a" stroke-width="1"/><path d="M272,1015.5L279.5,1033L334.5,1033L342,1015.5" fill="#f0eeee" stroke="#6a6a6a" stroke-width="1"/><path d="M209,1015.5L216.5,1033L272.5,1033L280,1015.5" fill="#f0eeee" stroke="#6a6a6a" stroke-width="1"/><path d="M82,1015.5L89.5,1033L146.5,1033L154,1015.5" fill="#f0eeee" stroke="#6a6a6a" stroke-width="1"/><path d="M148.5,1015.5L156.0,1033L209.5,1033L217,1015.5" fill="#000" stroke="#6a6a6a" stroke-width="1"/><line x1="66" y1="1033.5" x2="1918" y2="1033.5" stroke="#6a6a6a"/><rect x="1699" y="1016" width="16" height="15" fill="#f4f4f4"/><path d="M69,1022.5L82,1022.5" stroke="#000090" stroke-width="2.2"/><path d="M67,1022.5L72,1018.5L72,1026.5Z" fill="#3090ff"/><path d="M68,1022.5L72,1019.5L72,1025.5Z" fill="#000090"/><path d="M1699,1022.5L1712,1022.5" stroke="#000090" stroke-width="2.2"/><path d="M1715,1022.5L1710,1018.5L1710,1026.5Z" fill="#3090ff"/><path d="M1714,1022.5L1710,1019.5L1710,1025.5Z" fill="#000090"/><text x="98" y="1027" font-size="11.3" fill="#a00000" font-family="Liberation Sans">Όροφ.-1</text><text x="162" y="1027" font-size="11.3" font-weight="bold" fill="#fff" font-family="Liberation Sans">Όροφ.0</text><text x="225" y="1027" font-size="11.3" fill="#a00000" font-family="Liberation Sans">Όροφ.1</text><text x="288" y="1027" font-size="11.3" fill="#000" font-family="Liberation Sans">Όροφ.2</text><text x="350" y="1027" font-size="11.3" fill="#000" font-family="Liberation Sans">Όροφ.3</text><text x="412" y="1027" font-size="11.3" fill="#000" font-family="Liberation Sans">Όροφ.4</text><text x="474" y="1027" font-size="11.3" fill="#000" font-family="Liberation Sans">Όροφ.5</text><text x="536" y="1027" font-size="11.3" fill="#000" font-family="Liberation Sans">Όροφ.6</text><text x="598" y="1027" font-size="11.3" fill="#000" font-family="Liberation Sans">Όροφ.7</text><text x="660" y="1027" font-size="11.3" fill="#000" font-family="Liberation Sans">Όροφ.8</text><text x="722" y="1027" font-size="11.3" fill="#000" font-family="Liberation Sans">Όροφ.9</text><text x="785" y="1027" font-size="11.3" fill="#000" font-family="Liberation Sans">Όροφ.10</text><text x="855" y="1027" font-size="11.3" fill="#000" font-family="Liberation Sans">Όροφ.11</text><text x="926" y="1027" font-size="11.3" fill="#000" font-family="Liberation Sans">Όροφ.12</text><text x="997" y="1027" font-size="11.3" fill="#000" font-family="Liberation Sans">Όροφ.13</text><text x="1068" y="1027" font-size="11.3" fill="#000" font-family="Liberation Sans">Όροφ.14</text><text x="1139" y="1027" font-size="11.3" fill="#000" font-family="Liberation Sans">Όροφ.15</text><text x="1210" y="1027" font-size="11.3" fill="#000" font-family="Liberation Sans">Όροφ.16</text><text x="1282" y="1027" font-size="11.3" fill="#000" font-family="Liberation Sans">Όροφ.17</text><text x="1352" y="1027" font-size="11.3" fill="#000" font-family="Liberation Sans">Όροφ.18</text><text x="1423" y="1027" font-size="11.3" fill="#000" font-family="Liberation Sans">Όροφ.19</text><text x="1494" y="1027" font-size="11.3" fill="#000" font-family="Liberation Sans">Όροφ.20</text><text x="1565" y="1027" font-size="11.3" fill="#000" font-family="Liberation Sans">Όροφ.21</text><text x="1636" y="1027" font-size="11.3" fill="#000" font-family="Liberation Sans">Όροφ.22</text><text x="1742.7" y="1026.6" font-size="11" font-family="Liberation Sans">Βάση:</text><text x="1832.5" y="1026.6" font-size="11" font-family="Liberation Sans">Οροφή:</text></svg><div class="a" style="left:1781px;top:1016px;width:39px;height:17px;background:#fff;border:1px solid #5a5a5a"></div><div class="a" style="left:1784px;top:1017px;font-size:9.5px;color:#000">0.00</div><div class="a" style="left:1878px;top:1016px;width:39px;height:17px;background:#fff;border:1px solid #5a5a5a"></div><div class="a" style="left:1881px;top:1017px;font-size:9.5px;color:#000">3.70</div><div id="btb" class="a"></div><div class="a tbin" style="left:1px;top:1035px;width:1064px;height:25px"></div><div class="a" style="left:4px;top:1039px;width:2px;height:17px;background:repeating-linear-gradient(#a0a0a0 0 2px,transparent 2px 4px)"></div><svg class="a" style="left:14px;top:1039px" width="16" height="16" viewBox="0 0 16 16"><path d="M4,8Q4,3 9,3Q14,3 14,8Q14,11 10,12" fill="none" stroke="#000" stroke-width="1.5"/><path d="M1,8L7,8L4,4Z" fill="#000"/><path d="M1,14L9,14" stroke="#000" stroke-width="2"/><path d="M10,14L15,14" stroke="#000" stroke-width="2" stroke-dasharray="1,1"/></svg><svg class="a" style="left:37px;top:1039px" width="16" height="16" viewBox="0 0 16 16"><path d="M12,8Q12,3 7,3Q2,3 2,8Q2,11 6,12" fill="none" stroke="#a8a8a8" stroke-width="1.5"/><path d="M15,8L9,8L12,4Z" fill="#a8a8a8"/><path d="M7,14L15,14" stroke="#a8a8a8" stroke-width="2"/><path d="M1,14L6,14" stroke="#a8a8a8" stroke-width="2" stroke-dasharray="1,1"/></svg><svg class="a" style="left:70px;top:1039px" width="16" height="16" viewBox="0 0 16 16"><path d="M6,1Q8,-1 10,1L9,9L7,9Z" fill="#800000"/><path d="M8,11L10.5,13L8,15.5L5.5,13Z" fill="#800000"/></svg><svg class="a" style="left:91px;top:1039px" width="16" height="16" viewBox="0 0 16 16"><circle cx="6.5" cy="6.5" r="5" fill="#fff" stroke="#000" stroke-width="1.6"/><path d="M4,6.5L9,6.5M6.5,4L6.5,9" stroke="#000" stroke-width="2"/><path d="M10,10L15,15" stroke="#0000a0" stroke-width="2.5"/></svg><svg class="a" style="left:113px;top:1039px" width="16" height="16" viewBox="0 0 16 16"><circle cx="6.5" cy="6.5" r="5" fill="#fff" stroke="#000" stroke-width="1.6"/><path d="M4,6.5L9,6.5" stroke="#000" stroke-width="2"/><path d="M10,10L15,15" stroke="#0000a0" stroke-width="2.5"/></svg><svg class="a" style="left:137px;top:1039px" width="16" height="16" viewBox="0 0 16 16"><rect x="4.5" y="0.5" width="11" height="11" fill="none" stroke="#a00000" stroke-width="1"/><circle cx="10" cy="6" r="4" fill="#fff" stroke="#000" stroke-width="1.3"/><path d="M6.5,9.5L1,15" stroke="#000" stroke-width="2.2"/><path d="M5,11L3,13" stroke="#e0e000" stroke-width="1"/></svg><svg class="a" style="left:160px;top:1039px" width="16" height="16" viewBox="0 0 16 16"><circle cx="5.5" cy="8.5" r="3.5" fill="#fff" stroke="#000" stroke-width="1.6"/><path d="M8,11L12,15" stroke="#000" stroke-width="2.2"/><path d="M10,4L16,4" stroke="#0030ff" stroke-width="2.2"/><path d="M8,4L12,0L12,8Z" fill="#0030ff"/></svg><svg class="a" style="left:183px;top:1039px" width="16" height="16" viewBox="0 0 16 16"><circle cx="5.5" cy="8.5" r="3.5" fill="#fff" stroke="#a8a8a8" stroke-width="1.6"/><path d="M8,11L12,15" stroke="#a8a8a8" stroke-width="2.2"/><path d="M8,4L13,4" stroke="#a8a8a8" stroke-width="2"/><path d="M16,4L12,0L12,8Z" fill="#a8a8a8"/></svg><svg class="a" style="left:206px;top:1039px" width="16" height="16" viewBox="0 0 16 16"><rect x="0.5" y="0.5" width="15" height="14" fill="#fff" stroke="#000" stroke-width="1.2"/><rect x="1" y="1" width="14" height="2" fill="#000080"/><rect x="3" y="5" width="10" height="7" fill="#0040c0"/><path d="M5,7L11,10M11,7L5,10" stroke="#fff"/></svg><svg class="a" style="left:228px;top:1039px" width="16" height="16" viewBox="0 0 16 16"><rect x="1.5" y="2.5" width="13" height="12" fill="none" stroke="#000" stroke-width="1.2"/><path d="M2,14L14,3" stroke="#f0f000" stroke-width="3"/><path d="M2,3L14,14" stroke="#000"/><path d="M4,1L14,1" stroke="#e00000" stroke-width="1.3"/><path d="M4,1L7,-1M4,1L7,3" stroke="#0000e0"/><g fill="#e00000"><circle cx="1.5" cy="2.5" r="1"/><circle cx="14.5" cy="2.5" r="1"/><circle cx="1.5" cy="14.5" r="1"/><circle cx="14.5" cy="14.5" r="1"/></g></svg><svg class="a" style="left:260px;top:1039px" width="16" height="16" viewBox="0 0 16 16"><path d="M0.5,0.5L15.5,0.5L15.5,7.5L8,7.5L8,15.5L0.5,15.5Z" fill="#a8a8a8" stroke="#000"/><path d="M2,5L7,12M7,5L2,12" stroke="#f0f000" stroke-width="1.5"/></svg><svg class="a" style="left:290px;top:1039px" width="16" height="16" viewBox="0 0 16 16"><path d="M1,14L14,14L14,2" fill="none" stroke="#000" stroke-width="1.3"/><rect x="9" y="9" width="3.5" height="3.5" fill="#fff" stroke="#000"/></svg><svg class="a" style="left:321px;top:1039px" width="16" height="16" viewBox="0 0 16 16"><rect x="0.5" y="5.5" width="15" height="6" fill="#fff" stroke="#000" stroke-width="1.2"/><path d="M3,9L3,11M5.5,8L5.5,11M8,9L8,11M10.5,8L10.5,11M13,9L13,11" stroke="#000"/></svg><svg class="a" style="left:345px;top:1039px" width="16" height="16" viewBox="0 0 16 16"><path d="M3,14L13,3" stroke="#000"/><path d="M7,9L9,7" stroke="#e8e000" stroke-width="2"/><path d="M1,12L5,16M5,12L1,16M11,1L15,5M15,1L11,5" stroke="#000"/></svg><svg class="a" style="left:375px;top:1039px" width="16" height="16" viewBox="0 0 16 16"><path d="M3,2L3,14M3,2L14,2" stroke="#000" stroke-dasharray="1,1"/><path d="M3,2L13,13" stroke="#000" stroke-width="1.5"/><path d="M1,12L3,15L5,12ZM12,0L15,2L12,4Z" fill="#000"/><rect x="11.5" y="11.5" width="3" height="3" fill="#fff" stroke="#000"/><circle cx="3" cy="2" r="1.3" fill="#000"/></svg><svg class="a" style="left:399px;top:1039px" width="16" height="16" viewBox="0 0 16 16"><path d="M1,13Q1,4 8,4Q15,4 15,13Z" fill="#fff" stroke="#000" stroke-width="1.3"/><path d="M8,12L8,6" stroke="#000" stroke-width="1.3"/><path d="M3,10L4,9M13,10L12,9M5,6L6,7M11,6L10,7" stroke="#000"/></svg><svg class="a" style="left:429px;top:1039px" width="16" height="16" viewBox="0 0 16 16"><rect x="0.5" y="3.5" width="12" height="11" fill="#fff" stroke="#000080" stroke-width="1.2"/><rect x="1" y="4" width="11" height="2.5" fill="#000080"/><path d="M2,9L11,9M2,12L11,12M5,7L5,14M8,7L8,14" stroke="#000080"/><path d="M9,11L15,2L16,3L11,12Z" fill="#f0f000" stroke="#000"/></svg><svg class="a" style="left:452px;top:1039px" width="16" height="16" viewBox="0 0 16 16"><rect x="0.5" y="1.5" width="15" height="13" fill="#fff" stroke="#000" stroke-width="1.2"/><rect x="1" y="2" width="14" height="2" fill="#0000a0"/><path d="M1,7.5L15,7.5M1,11L15,11M5.5,4L5.5,14M10.5,4L10.5,14" stroke="#000" stroke-width="1.3"/></svg><svg class="a" style="left:483px;top:1039px" width="16" height="16" viewBox="0 0 16 16"><rect x="1.5" y="1.5" width="9" height="9" fill="#fff" stroke="#000" stroke-width="1.4"/><rect x="4.5" y="4.5" width="9" height="9" fill="#fff" stroke="#000" stroke-width="1.4"/><rect x="7.5" y="7.5" width="7" height="7" fill="#fff" stroke="#a0a0a0"/></svg><svg class="a" style="left:513px;top:1039px" width="16" height="16" viewBox="0 0 16 16"><rect x="0.5" y="0.5" width="15" height="15" fill="#fff" stroke="#000" stroke-width="1.2"/><text x="8" y="13" font-size="13" text-anchor="middle" fill="#0000b0" font-family="Liberation Serif">A</text></svg><svg class="a" style="left:536px;top:1039px" width="16" height="16" viewBox="0 0 16 16"><rect x="0.5" y="0.5" width="15" height="15" fill="#fff" stroke="#000" stroke-width="1.2"/><text x="8" y="13" font-size="13" text-anchor="middle" fill="#0000b0" font-family="Liberation Serif">S</text></svg><svg class="a" style="left:559px;top:1039px" width="16" height="16" viewBox="0 0 16 16"><rect x="0.5" y="0.5" width="15" height="15" fill="#fff" stroke="#000" stroke-width="1.2"/><text x="8" y="13" font-size="13" text-anchor="middle" fill="#0000b0" font-family="Liberation Serif">M</text></svg><svg class="a" style="left:582px;top:1039px" width="16" height="16" viewBox="0 0 16 16"><rect x="0.5" y="0.5" width="15" height="15" fill="#fff" stroke="#000" stroke-width="1.2"/><text x="8" y="13" font-size="13" text-anchor="middle" fill="#0000b0" font-family="Liberation Serif">D</text></svg><svg class="a" style="left:605px;top:1039px" width="16" height="16" viewBox="0 0 16 16"><rect x="0.5" y="0.5" width="15" height="15" fill="#fff" stroke="#000" stroke-width="1.2"/><text x="8" y="13" font-size="13" text-anchor="middle" fill="#0000b0" font-family="Liberation Serif">C</text></svg><svg class="a" style="left:637px;top:1039px" width="16" height="16" viewBox="0 0 16 16"><rect x="1" y="10" width="2.5" height="2.5" fill="#000"/><path d="M7,8L13,8M10,5L10,11" stroke="#000" stroke-width="1.2"/></svg><svg class="a" style="left:660px;top:1039px" width="16" height="16" viewBox="0 0 16 16"><rect x="1" y="10" width="2.5" height="2.5" fill="#000"/><path d="M7,8L13,8" stroke="#000" stroke-width="1.2"/></svg><div class="a" style="left:60px;top:1038px;width:1px;height:19px;background:#c4c4c4;box-shadow:1px 0 0 #fff"></div><div class="a" style="left:253px;top:1038px;width:1px;height:19px;background:#c4c4c4;box-shadow:1px 0 0 #fff"></div><div class="a" style="left:283px;top:1038px;width:1px;height:19px;background:#c4c4c4;box-shadow:1px 0 0 #fff"></div><div class="a" style="left:314px;top:1038px;width:1px;height:19px;background:#c4c4c4;box-shadow:1px 0 0 #fff"></div><div class="a" style="left:369px;top:1038px;width:1px;height:19px;background:#c4c4c4;box-shadow:1px 0 0 #fff"></div><div class="a" style="left:422px;top:1038px;width:1px;height:19px;background:#c4c4c4;box-shadow:1px 0 0 #fff"></div><div class="a" style="left:477px;top:1038px;width:1px;height:19px;background:#c4c4c4;box-shadow:1px 0 0 #fff"></div><div class="a" style="left:507px;top:1038px;width:1px;height:19px;background:#c4c4c4;box-shadow:1px 0 0 #fff"></div><div class="a" style="left:631px;top:1038px;width:1px;height:19px;background:#c4c4c4;box-shadow:1px 0 0 #fff"></div><div class="a" style="left:708px;top:1038px;width:1px;height:19px;background:#c4c4c4;box-shadow:1px 0 0 #fff"></div><div class="a" style="left:738px;top:1038px;width:1px;height:19px;background:#c4c4c4;box-shadow:1px 0 0 #fff"></div><div class="a" style="left:534px;top:1036px;width:24px;height:22px;border:1px solid #3399ff;background:#d4e8fa"></div><svg class="a" style="left:536px;top:1039px" width="16" height="16" viewBox="0 0 16 16"><rect x="0.5" y="0.5" width="15" height="15" fill="#fff" stroke="#000" stroke-width="1.2"/><text x="8" y="13" font-size="13" text-anchor="middle" fill="#0000b0" font-family="Liberation Serif">S</text></svg><div class="a" style="left:680px;top:1036px;width:23px;height:22px;border:1px solid #3399ff;background:#d4e8fa"></div><svg class="a" style="left:684px;top:1039px" width="16" height="16" viewBox="0 0 16 16"><path d="M4,6Q4,1 8,1Q12,1 12,6L12,11Q12,15 8,15Q4,15 4,11Z" fill="#fff" stroke="#000" stroke-width="1.2"/><path d="M4,6L12,6M8,1L8,6" stroke="#000"/></svg><div class="a" style="left:711px;top:1036px;width:23px;height:22px;border:1px solid #3399ff;background:#d4e8fa"></div><svg class="a" style="left:715px;top:1039px" width="16" height="16" viewBox="0 0 16 16"><path d="M8,1L8,15M1,8L15,8" stroke="#0000c0" stroke-width="1.3"/><path d="M3,3L13,13M13,3L3,13" stroke="#ff2000" stroke-width="1.3"/><circle cx="8" cy="8" r="1" fill="#f0f000"/></svg><div class="a" style="left:742px;top:1036px;width:23px;height:22px;border:1px solid #3399ff;background:#d4e8fa"></div><svg class="a" style="left:746px;top:1039px" width="16" height="16" viewBox="0 0 16 16"><path d="M1,4.5L15,4.5M1,11.5L15,11.5M4.5,1L4.5,15M11.5,1L11.5,15" stroke="#000080" stroke-width="1.6"/><path d="M5.5,5.5L10.5,10.5M10.5,5.5L5.5,10.5" stroke="#ff2000" stroke-width="1.2"/><circle cx="8" cy="8" r=".8" fill="#f0f000"/></svg><div class="a" style="left:765px;top:1036px;width:23px;height:22px;border:1px solid #3399ff;background:#d4e8fa"></div><svg class="a" style="left:769px;top:1039px" width="16" height="16" viewBox="0 0 16 16"><circle cx="3" cy="10" r="2.3" fill="none" stroke="#000080" stroke-width="1.2"/><circle cx="10" cy="3" r="2.3" fill="none" stroke="#000080" stroke-width="1.2"/><path d="M5,10L15,10M10,5L10,15" stroke="#000080" stroke-width="1.2"/><path d="M7.5,7.5L12.5,12.5M12.5,7.5L7.5,12.5" stroke="#ff2000" stroke-width="1.2"/><circle cx="10" cy="10" r=".8" fill="#f0f000"/></svg><div class="a" style="left:788px;top:1036px;width:23px;height:22px;border:1px solid #3399ff;background:#d4e8fa"></div><svg class="a" style="left:792px;top:1039px" width="16" height="16" viewBox="0 0 16 16"><rect x="5.5" y="1.5" width="9" height="8" fill="#fff" stroke="#000080" stroke-width="1.2"/><path d="M6,8L12,2M8,9L14,3M10,9L14,5" stroke="#000080"/><path d="M1.5,9.5L6.5,14.5M6.5,9.5L1.5,14.5" stroke="#ff2000" stroke-width="1.2"/><circle cx="4" cy="12" r=".8" fill="#f0f000"/></svg><div class="a" style="left:811px;top:1036px;width:23px;height:22px;border:1px solid #3399ff;background:#d4e8fa"></div><svg class="a" style="left:815px;top:1039px" width="16" height="16" viewBox="0 0 16 16"><path d="M15,5.5L4,5.5L4,11.5L15,11.5" fill="none" stroke="#000080" stroke-width="1.4"/><path d="M1.5,8.5L6.5,13.5M6.5,8.5L1.5,13.5" stroke="#ff2000" stroke-width="1.2"/><circle cx="4" cy="11" r=".8" fill="#f0f000"/></svg><div class="a" style="left:834px;top:1036px;width:23px;height:22px;border:1px solid #3399ff;background:#d4e8fa"></div><svg class="a" style="left:838px;top:1039px" width="16" height="16" viewBox="0 0 16 16"><path d="M1,8L11,8" stroke="#000080" stroke-width="1.4"/><path d="M9.5,5.5L14.5,10.5M14.5,5.5L9.5,10.5" stroke="#ff2000" stroke-width="1.2"/><circle cx="12" cy="8" r=".8" fill="#f0f000"/></svg><div class="a" style="left:857px;top:1036px;width:23px;height:22px;border:1px solid #3399ff;background:#d4e8fa"></div><svg class="a" style="left:861px;top:1039px" width="16" height="16" viewBox="0 0 16 16"><rect x="2.5" y="5.5" width="10" height="5" fill="#fff" stroke="#000080" stroke-width="1.6"/><rect x="4" y="7" width="7" height="2" fill="#000080"/><path d="M10.5,8.5L15.5,13.5M15.5,8.5L10.5,13.5" stroke="#ff2000" stroke-width="1.2"/><circle cx="13" cy="11" r=".8" fill="#f0f000"/></svg><div class="a" style="left:880px;top:1036px;width:23px;height:22px;border:1px solid #3399ff;background:#d4e8fa"></div><svg class="a" style="left:884px;top:1039px" width="16" height="16" viewBox="0 0 16 16"><path d="M4,1.5L15,1.5L12,12.5L1,12.5Z" fill="#fff" stroke="#000080" stroke-width="1.3"/><path d="M6.5,9.5L11.5,14.5M11.5,9.5L6.5,14.5" stroke="#ff2000" stroke-width="1.2"/><circle cx="9" cy="12" r=".8" fill="#f0f000"/></svg><div class="a" style="left:903px;top:1036px;width:23px;height:22px;border:1px solid #3399ff;background:#d4e8fa"></div><svg class="a" style="left:907px;top:1039px" width="16" height="16" viewBox="0 0 16 16"><text x="4" y="10" font-size="8.5" fill="#000080" font-family="Liberation Sans">AB</text><path d="M1.5,9.5L6.5,14.5M6.5,9.5L1.5,14.5" stroke="#ff2000" stroke-width="1.2"/><circle cx="4" cy="12" r=".8" fill="#f0f000"/></svg><div class="a" style="left:926px;top:1036px;width:23px;height:22px;border:1px solid #3399ff;background:#d4e8fa"></div><svg class="a" style="left:930px;top:1039px" width="16" height="16" viewBox="0 0 16 16"><rect x="3.5" y="3.5" width="11" height="10" fill="#fff" stroke="#000080" stroke-width="1.2"/><path d="M5,6L8,6M5,9L13,9M5,11.5L13,11.5M9,6L13,6" stroke="#000080"/><path d="M0.5,-0.5L5.5,4.5M5.5,-0.5L0.5,4.5" stroke="#ff2000" stroke-width="1.2"/><circle cx="3" cy="2" r=".8" fill="#f0f000"/></svg><div class="a" style="left:949px;top:1036px;width:23px;height:22px;border:1px solid #3399ff;background:#d4e8fa"></div><svg class="a" style="left:953px;top:1039px" width="16" height="16" viewBox="0 0 16 16"><path d="M1,8L15,8M3,5L3,11M8,5L8,11" stroke="#000080" stroke-width="1.4"/><path d="M9.5,8.5L14.5,13.5M14.5,8.5L9.5,13.5" stroke="#ff2000" stroke-width="1.2"/><circle cx="12" cy="11" r=".8" fill="#f0f000"/></svg><div class="a" style="left:972px;top:1036px;width:23px;height:22px;border:1px solid #3399ff;background:#d4e8fa"></div><svg class="a" style="left:976px;top:1039px" width="16" height="16" viewBox="0 0 16 16"><rect x="1.5" y="3.5" width="10" height="7" fill="#fff" stroke="#000080" stroke-width="1.4"/><path d="M5,4L5,10" stroke="#000080"/><path d="M10.5,8.5L15.5,13.5M15.5,8.5L10.5,13.5" stroke="#ff2000" stroke-width="1.2"/><circle cx="13" cy="11" r=".8" fill="#f0f000"/></svg><div class="a" style="left:995px;top:1036px;width:23px;height:22px;border:1px solid #3399ff;background:#d4e8fa"></div><svg class="a" style="left:999px;top:1039px" width="16" height="16" viewBox="0 0 16 16"><path d="M0,8L9,8M10,2L10,14" stroke="#000080" stroke-width="1.4"/><path d="M6,5L9,8L6,11Z" fill="#000080"/><path d="M10.5,5.5L15.5,10.5M15.5,5.5L10.5,10.5" stroke="#ff2000" stroke-width="1.2"/><circle cx="13" cy="8" r=".8" fill="#f0f000"/></svg><div class="a" style="left:1018px;top:1036px;width:23px;height:22px;border:1px solid #3399ff;background:#d4e8fa"></div><svg class="a" style="left:1022px;top:1039px" width="16" height="16" viewBox="0 0 16 16"><path d="M3,10L9,3M6,11L12,4M9,11L15,4" stroke="#000080" stroke-width="1.2"/><path d="M0.5,9.5L5.5,14.5M5.5,9.5L0.5,14.5" stroke="#ff2000" stroke-width="1.2"/><circle cx="3" cy="12" r=".8" fill="#f0f000"/></svg><div class="a" style="left:1041px;top:1036px;width:23px;height:22px;border:1px solid #3399ff;background:#d4e8fa"></div><svg class="a" style="left:1045px;top:1039px" width="16" height="16" viewBox="0 0 16 16"><rect x="2.5" y="2.5" width="12" height="11" fill="#fff" stroke="#000080" stroke-width="1.2"/><rect x="6" y="6" width="6" height="5" fill="#fff" stroke="#000080" stroke-width="1.4"/><path d="M0.5,-0.5L5.5,4.5M5.5,-0.5L0.5,4.5" stroke="#ff2000" stroke-width="1.2"/><circle cx="3" cy="2" r=".8" fill="#f0f000"/></svg><div id="status" class="a"><span style="left:6px">Επιλέξτε υποστύλωμα για καθορισμό νέων παραμέτρων</span><span style="left:1790px">Sn=0.05</span><span style="left:1866px;color:#a0a0a0">CAF</span><span style="left:1892px">NUM</span></div><div class="a" style="left:1453px;top:1062px;width:1px;height:16px;background:#b0b0b0;box-shadow:1px 0 0 #fff"></div><div class="a" style="left:1619px;top:1062px;width:1px;height:16px;background:#b0b0b0;box-shadow:1px 0 0 #fff"></div><div class="a" style="left:1785px;top:1062px;width:1px;height:16px;background:#b0b0b0;box-shadow:1px 0 0 #fff"></div><div class="a" style="left:1862px;top:1062px;width:1px;height:16px;background:#b0b0b0;box-shadow:1px 0 0 #fff"></div><div class="a" style="left:1887px;top:1062px;width:1px;height:16px;background:#b0b0b0;box-shadow:1px 0 0 #fff"></div><div class="a" style="left:790px;top:118px;width:1102px;height:841px;background:#000;border-radius:7px 7px 0 0;opacity:.35"></div><div class="a" style="left:791px;top:119px;width:1100px;height:839px;border:1px solid #fff;border-right-color:#38c8f8;border-bottom-color:#38c8f8;border-radius:5px 5px 0 0;background:linear-gradient(#8eafd0 0,#9db8d6 10px,#a6bfdc 20px,#b6cbe4 28px,#bcd0e8 60px,#bcd1ea 100%)"></div><svg class="a" style="left:801px;top:130px" width="16" height="14" viewBox="0 0 16 14"><path d="M1,2.5L1,1.5L5.5,1.5L6.5,2.5Z" fill="#c08010" stroke="#5a3a00"/><rect x="1.5" y="2.5" width="13" height="10" rx="1" fill="#f8b030" stroke="#5a3a00"/><rect x="3.5" y="5" width="9" height="5" fill="#fff" stroke="#5a3a00"/><path d="M8,5L8,10M5,7L7,7M9,7L11,7" stroke="#5a3a00"/></svg><div class="a" style="left:820px;top:130px;font-size:12px;color:#111;white-space:nowrap">Τεύχος «C:\Users\lillyh\Desktop\Fepa_Tekton18\epilysi1\eikona_toixopoiias_me_amfipleyro_mandya.tek»</div><div class="a" style="left:1785px;top:128px;width:31px;height:17px;border:1px solid #6c7c94;border-radius:3px;background:linear-gradient(#c8d8ec,#bccde4 45%,#a6bcd8 55%,#b8cce4);box-shadow:inset 0 0 0 1px rgba(255,255,255,.45)"></div><div class="a" style="left:1795.5px;top:136.5px;width:10px;height:4px;background:#fff;border:1px solid #3a3a4a;border-radius:1px"></div><div class="a" style="left:1818px;top:128px;width:31px;height:17px;border:1px solid #6c7c94;border-radius:3px;background:linear-gradient(#c8d8ec,#bccde4 45%,#a6bcd8 55%,#b8cce4);box-shadow:inset 0 0 0 1px rgba(255,255,255,.45)"></div><div class="a" style="left:1828.5px;top:132.5px;width:10px;height:8px;background:#fff;border:1px solid #3a3a4a;border-radius:1px"></div><div class="a" style="left:1831.5px;top:135.5px;width:4px;height:2px;background:#7c8cb0;border:1px solid #3a3a4a"></div><div class="a" style="left:1851px;top:128px;width:31px;height:17px;border:1px solid #5a1c10;border-radius:3px;background:linear-gradient(#e8a090,#d86a50 45%,#c4421e 55%,#d06040);box-shadow:inset 0 0 0 1px rgba(255,255,255,.45)"></div><svg class="a" style="left:1859.5px;top:130.5px" width="14" height="12" viewBox="0 0 14 12"><path d="M3,2.5L11,9.5M11,2.5L3,9.5" stroke="#4a2a2a" stroke-width="4.2" stroke-linecap="round"/><path d="M3,2.5L11,9.5M11,2.5L3,9.5" stroke="#fff" stroke-width="2.4" stroke-linecap="round"/></svg><div class="a" style="left:798px;top:148px;width:1086px;height:802px;background:#f0f0f0"></div><div class="a" style="left:798px;top:148px;width:1086px;height:19px;background:linear-gradient(#fbfcfe,#f3f5fa 40%,#dde3f1 45%,#dfe5f3)"></div><div class="a" style="left:805px;top:151px;font-size:12px;color:#111;white-space:nowrap">Αρχεία</div><div class="a" style="left:855px;top:151px;font-size:12px;color:#111;white-space:nowrap">Επιλογές</div><div class="a" style="left:916px;top:151px;font-size:12px;color:#111;white-space:nowrap">Εργαλεία</div><div class="a" style="left:977px;top:151px;font-size:12px;color:#111;white-space:nowrap">Βοήθεια</div><div class="a" style="left:798px;top:167px;width:1086px;height:3px;background:linear-gradient(#d0d4dc,#9aa0a8 50%,#fff)"></div><div class="a" style="left:800px;top:170px;width:1081px;height:26px;border-radius:2px;background:linear-gradient(#f8f9fc,#eef1f8 35%,#d8deee 40%,#d4daec)"></div><div class="a" style="left:803px;top:173px;width:2px;height:20px;background:repeating-linear-gradient(#7a8090 0 1px,transparent 1px 3px)"></div><svg class="a" style="left:815px;top:174px" width="18" height="18" viewBox="0 0 18 18"><path d="M1.5,15.5L1.5,5.5L6,5.5L7,7L14,7L14,15.5Z" fill="#f7e07a" stroke="#6a5a10"/><path d="M1.5,15.5L4.5,9.5L17,9.5L14,15.5Z" fill="#fff6b0" stroke="#6a5a10"/><path d="M9,5 Q12,1 15,4" fill="none" stroke="#000"/><path d="M14,2L15.5,4.5L12.5,4.5Z" fill="#000"/></svg><svg class="a" style="left:839px;top:181px" width="8" height="5"><path d="M0,0L7,0L3.5,4Z" fill="#202020"/></svg><svg class="a" style="left:853px;top:174px" width="18" height="18" viewBox="0 0 18 18"><path d="M1.5,15.5L1.5,5.5L6,5.5L7,7L14,7L14,15.5Z" fill="#f7e07a" stroke="#6a5a10"/><path d="M1.5,15.5L4.5,9.5L17,9.5L14,15.5Z" fill="#fff6b0" stroke="#6a5a10"/><path d="M12,1L15.5,5L13.5,5L13.5,9L10.5,9L10.5,5L8.5,5Z" fill="#000"/></svg><svg class="a" style="left:876px;top:174px" width="18" height="18" viewBox="0 0 18 18"><rect x="1.5" y="1.5" width="14" height="14" fill="#6a6a10" stroke="#000"/><rect x="4" y="2" width="9" height="6" fill="#e0e0e0"/><rect x="5" y="11" width="6" height="4.5" fill="#000"/><rect x="6.5" y="12" width="1.5" height="2.5" fill="#c0c0c0"/></svg><svg class="a" style="left:906px;top:174px" width="18" height="18" viewBox="0 0 18 18"><path d="M4,2.5L13,2.5L13,7L4,7Z" fill="#fff" stroke="#404040"/><path d="M1.5,7.5L16.5,7.5L16.5,14L1.5,14Z" fill="#b0b0b0" stroke="#303030"/><rect x="4" y="12" width="10" height="4" fill="#e8e8e8" stroke="#404040"/></svg><svg class="a" style="left:929px;top:174px" width="18" height="18" viewBox="0 0 18 18"><path d="M4.5,1.5L12,1.5L14.5,4L14.5,16.5L4.5,16.5Z" fill="#fff" stroke="#404040"/><circle cx="8" cy="8" r="3.5" fill="#a0d0ff" stroke="#204080" stroke-width="1.3"/><path d="M10.5,10.5L14.5,14.5" stroke="#2040a0" stroke-width="2.5"/></svg><svg class="a" style="left:958px;top:174px" width="18" height="18" viewBox="0 0 18 18"><path d="M1.5,15.5L1.5,5.5L6,5.5L7,7L14,7L14,15.5Z" fill="#f7e07a" stroke="#6a5a10"/><path d="M1.5,15.5L4.5,9.5L17,9.5L14,15.5Z" fill="#fff6b0" stroke="#6a5a10"/><text x="6" y="14.5" font-size="8" font-style="italic" font-weight="bold" fill="#2020c0" font-family="Liberation Serif">A</text></svg><svg class="a" style="left:981px;top:174px" width="18" height="18" viewBox="0 0 18 18"><path d="M1.5,15.5L1.5,5.5L6,5.5L7,7L14,7L14,15.5Z" fill="#f7e07a" stroke="#6a5a10"/><path d="M1.5,15.5L4.5,9.5L17,9.5L14,15.5Z" fill="#fff6b0" stroke="#6a5a10"/><path d="M6,11L12,11M6,13L12,13" stroke="#806000"/></svg><svg class="a" style="left:1014px;top:174px" width="18" height="18" viewBox="0 0 18 18"><path d="M2,15L3,6L6,4L7,8L8,8L9,4L12,6L13,15L9,15L9,10L6,10L6,15Z" fill="#000"/></svg><svg class="a" style="left:1036px;top:174px" width="18" height="18" viewBox="0 0 18 18"><path d="M1.5,3.5L13.5,3.5L9,9L9,14L6,15.5L6,9Z" fill="#fff" stroke="#303030"/><path d="M12,11L16,11M12,13.5L16,13.5M12,16L16,16" stroke="#303030"/></svg><svg class="a" style="left:1066px;top:174px" width="18" height="18" viewBox="0 0 18 18"><path d="M3.5,1.5L14.5,1.5L14.5,15.5L3.5,15.5Z" fill="#fff" stroke="#404040"/><path d="M6,5L12,5M6,8L12,8" stroke="#d03030"/><circle cx="5.5" cy="13" r="3.5" fill="#fff" stroke="#d02020"/><path d="M3,15.5L8,10.5" stroke="#d02020"/></svg><svg class="a" style="left:1090px;top:174px" width="18" height="18" viewBox="0 0 18 18"><path d="M1.5,1.5L16.5,1.5L16.5,12.5L4,12.5L1.5,16Z" fill="#fff" stroke="#303030"/><path d="M4,5L12,5M4,8L10,8" stroke="#d03030"/><circle cx="13" cy="13" r="3.5" fill="#fff" stroke="#d02020"/><path d="M10.5,15.5L15.5,10.5" stroke="#d02020"/></svg><svg class="a" style="left:1121px;top:174px" width="18" height="18" viewBox="0 0 18 18"><circle cx="9" cy="9" r="7.3" fill="#fff" stroke="#000" stroke-width="1.6"/><path d="M10.5,5L6.5,9L10.5,13" fill="none" stroke="#000" stroke-width="2"/></svg><div class="sep" style="left:898px;top:173px;height:20px;background:#a0a4b0"></div><div class="sep" style="left:952px;top:173px;height:20px;background:#a0a4b0"></div><div class="sep" style="left:1006px;top:173px;height:20px;background:#a0a4b0"></div><div class="sep" style="left:1060px;top:173px;height:20px;background:#a0a4b0"></div><div class="sep" style="left:1113px;top:173px;height:20px;background:#a0a4b0"></div><div class="a" style="left:800px;top:217px;width:246px;height:710px;border:1px solid #898c95;border-right-width:2px;border-bottom-width:2px;background:#fcfcfc"></div><div class="a" style="left:875px;top:200px;width:41px;height:18px;border:1px solid #898c95;border-bottom:none;background:linear-gradient(#f2f2f2,#e4e4e4 50%,#d6d6d6)"></div><div class="a" style="left:916px;top:200px;width:68px;height:18px;border:1px solid #898c95;border-bottom:none;background:linear-gradient(#f2f2f2,#e4e4e4 50%,#d6d6d6)"></div><div class="a" style="left:800px;top:198px;width:76px;height:21px;border:1px solid #898c95;border-bottom:none;background:#fbfbfb"></div><div class="a" style="left:807px;top:202px;font-size:11px;color:#111">Περιεχόμενα</div><div class="a" style="left:880px;top:204px;font-size:11px;color:#111">Λάθη</div><div class="a" style="left:920px;top:204px;font-size:11px;letter-spacing:-0.45px;color:#111">Ειδοποιήσεις</div><div class="a" style="left:801px;top:219px;width:244px;height:707px;background:#fcfcfc"></div><div class="a" style="left:803px;top:221px;width:241px;height:704px;background:#f0f0f0"></div><div class="a" style="left:801px;top:219px;width:243px;height:688px;overflow:hidden"><div class="a" style="left:-801px;top:-219px;width:1100px;height:900px"><svg class="a" style="left:808px;top:223px" width="15" height="15" viewBox="0 0 15 15"><path d="M7.5,1 L14,7.5 L7.5,14 L1,7.5 Z" fill="#fff" stroke="#000" stroke-width="1.3"/></svg><div class="a tr" style="left:828px;top:224px">Τεύχος - «χωρίς τίτλο»</div><svg class="a" style="left:826px;top:239px" width="16" height="14" viewBox="0 0 16 14"><path d="M0.5,2.5 L0.5,1.5 Q0.5,0.5 1.5,0.5 L5.5,0.5 L6.5,2 L14.5,2 L14.5,12.5 L0.5,12.5 Z" fill="#f4e070" stroke="#3c3c10"/><rect x="0.5" y="3.5" width="14" height="9" fill="#fcf094" stroke="#3c3c10"/><path d="M2,11 L13,5" stroke="#fff6d0" stroke-width="1" opacity=".6"/></svg><div class="a tr" style="left:846px;top:240px">Πρώτη σελίδα</div><svg class="a" style="left:826px;top:255px" width="16" height="14" viewBox="0 0 16 14"><path d="M0.5,2.5 L0.5,1.5 Q0.5,0.5 1.5,0.5 L5.5,0.5 L6.5,2 L14.5,2 L14.5,12.5 L0.5,12.5 Z" fill="#f4e070" stroke="#3c3c10"/><rect x="0.5" y="3.5" width="14" height="9" fill="#fcf094" stroke="#3c3c10"/><path d="M2,11 L13,5" stroke="#fff6d0" stroke-width="1" opacity=".6"/></svg><div class="a tr" style="left:846px;top:256px">Περιεχόμενα</div><svg class="a" style="left:826px;top:271px" width="16" height="14" viewBox="0 0 16 14"><path d="M0.5,2.5 L0.5,1.5 Q0.5,0.5 1.5,0.5 L5.5,0.5 L6.5,2 L14.5,2 L14.5,12.5 L0.5,12.5 Z" fill="#acacac" stroke="#6e6e6e"/><rect x="0.5" y="3.5" width="14" height="9" fill="#bcbcbc" stroke="#6e6e6e"/></svg><div class="a tr" style="left:846px;top:272px">Υπεύθυνη δήλωση</div><svg class="a" style="left:826px;top:287px" width="16" height="14" viewBox="0 0 16 14"><path d="M0.5,2.5 L0.5,1.5 Q0.5,0.5 1.5,0.5 L5.5,0.5 L6.5,2 L14.5,2 L14.5,12.5 L0.5,12.5 Z" fill="#acacac" stroke="#6e6e6e"/><rect x="0.5" y="3.5" width="14" height="9" fill="#bcbcbc" stroke="#6e6e6e"/></svg><div class="a tr" style="left:846px;top:288px">Παραδοχές μελέτης διαστασιολόγησης</div><svg class="a" style="left:826px;top:303px" width="16" height="14" viewBox="0 0 16 14"><path d="M0.5,2.5 L0.5,1.5 Q0.5,0.5 1.5,0.5 L5.5,0.5 L6.5,2 L14.5,2 L14.5,12.5 L0.5,12.5 Z" fill="#acacac" stroke="#6e6e6e"/><rect x="0.5" y="3.5" width="14" height="9" fill="#bcbcbc" stroke="#6e6e6e"/></svg><div class="a tr" style="left:846px;top:304px">Εκτίμηση φέρουσας ικανότητας εδάφους</div><svg class="a" style="left:826px;top:319px" width="16" height="14" viewBox="0 0 16 14"><path d="M0.5,2.5 L0.5,1.5 Q0.5,0.5 1.5,0.5 L5.5,0.5 L6.5,2 L14.5,2 L14.5,12.5 L0.5,12.5 Z" fill="#acacac" stroke="#6e6e6e"/><rect x="0.5" y="3.5" width="14" height="9" fill="#bcbcbc" stroke="#6e6e6e"/></svg><div class="a tr" style="left:846px;top:320px">Παραδοχές μελέτης τοιχοποιίας</div><svg class="a" style="left:826px;top:335px" width="16" height="14" viewBox="0 0 16 14"><path d="M0.5,2.5 L0.5,1.5 Q0.5,0.5 1.5,0.5 L5.5,0.5 L6.5,2 L14.5,2 L14.5,12.5 L0.5,12.5 Z" fill="#acacac" stroke="#6e6e6e"/><rect x="0.5" y="3.5" width="14" height="9" fill="#bcbcbc" stroke="#6e6e6e"/></svg><div class="a tr" style="left:846px;top:336px">Γενικοί έλεγχοι δομήματος</div><svg class="a" style="left:813px;top:353px" width="8" height="10" viewBox="0 0 8 10"><path d="M1.5,0.5 L6,4.75 L1.5,9 Z" fill="#fff" stroke="#a0a0a0"/></svg><svg class="a" style="left:826px;top:351px" width="16" height="14" viewBox="0 0 16 14"><path d="M0.5,2.5 L0.5,1.5 Q0.5,0.5 1.5,0.5 L5.5,0.5 L6.5,2 L14.5,2 L14.5,12.5 L0.5,12.5 Z" fill="#acacac" stroke="#6e6e6e"/><rect x="0.5" y="3.5" width="14" height="9" fill="#bcbcbc" stroke="#6e6e6e"/></svg><div class="a tr" style="left:846px;top:352px">Πλάκες</div><svg class="a" style="left:826px;top:367px" width="16" height="14" viewBox="0 0 16 14"><path d="M0.5,2.5 L0.5,1.5 Q0.5,0.5 1.5,0.5 L5.5,0.5 L6.5,2 L14.5,2 L14.5,12.5 L0.5,12.5 Z" fill="#acacac" stroke="#6e6e6e"/><rect x="0.5" y="3.5" width="14" height="9" fill="#bcbcbc" stroke="#6e6e6e"/></svg><div class="a tr" style="left:846px;top:368px">Στοιχεία - δεδομένα κτιρίου</div><svg class="a" style="left:826px;top:383px" width="16" height="14" viewBox="0 0 16 14"><path d="M0.5,2.5 L0.5,1.5 Q0.5,0.5 1.5,0.5 L5.5,0.5 L6.5,2 L14.5,2 L14.5,12.5 L0.5,12.5 Z" fill="#acacac" stroke="#6e6e6e"/><rect x="0.5" y="3.5" width="14" height="9" fill="#bcbcbc" stroke="#6e6e6e"/></svg><div class="a tr" style="left:846px;top:384px">Αποτελέσματα επίλυσης</div><svg class="a" style="left:813px;top:401px" width="8" height="10" viewBox="0 0 8 10"><path d="M1.5,0.5 L6,4.75 L1.5,9 Z" fill="#fff" stroke="#a0a0a0"/></svg><svg class="a" style="left:826px;top:399px" width="16" height="14" viewBox="0 0 16 14"><path d="M0.5,2.5 L0.5,1.5 Q0.5,0.5 1.5,0.5 L5.5,0.5 L6.5,2 L14.5,2 L14.5,12.5 L0.5,12.5 Z" fill="#acacac" stroke="#6e6e6e"/><rect x="0.5" y="3.5" width="14" height="9" fill="#bcbcbc" stroke="#6e6e6e"/></svg><div class="a tr" style="left:846px;top:400px">Δοκοί</div><svg class="a" style="left:813px;top:417px" width="8" height="10" viewBox="0 0 8 10"><path d="M1.5,0.5 L6,4.75 L1.5,9 Z" fill="#fff" stroke="#a0a0a0"/></svg><svg class="a" style="left:826px;top:415px" width="16" height="14" viewBox="0 0 16 14"><path d="M0.5,2.5 L0.5,1.5 Q0.5,0.5 1.5,0.5 L5.5,0.5 L6.5,2 L14.5,2 L14.5,12.5 L0.5,12.5 Z" fill="#acacac" stroke="#6e6e6e"/><rect x="0.5" y="3.5" width="14" height="9" fill="#bcbcbc" stroke="#6e6e6e"/></svg><div class="a tr" style="left:846px;top:416px">Υποστυλώματα</div><svg class="a" style="left:813px;top:434px" width="8" height="8" viewBox="0 0 8 8"><path d="M6.5,1.5 L6.5,6.5 L1.5,6.5 Z" fill="#404040" stroke="#404040" stroke-linejoin="round"/></svg><svg class="a" style="left:825px;top:430px" width="18" height="15" viewBox="0 0 18 15"><path d="M0.5,13.5 L0.5,1.5 L5.5,1.5 L6.5,3 L13.5,3 L13.5,13.5 Z" fill="#f5d870" stroke="#8a7a40"/><path d="M4,5.5 L9,1 L14,5.5" fill="none" stroke="#4060a0"/><path d="M0.5,13.5 L3.5,6.5 L17.5,6.5 L14.5,13.5 Z" fill="#fbe9a0" stroke="#8a7a40"/></svg><div class="a tr" style="left:846px;top:432px">Αναλυτικά αποτελέσματα</div><svg class="a" style="left:832px;top:450px" width="8" height="8" viewBox="0 0 8 8"><path d="M6.5,1.5 L6.5,6.5 L1.5,6.5 Z" fill="#404040" stroke="#404040" stroke-linejoin="round"/></svg><svg class="a" style="left:845px;top:447px" width="16" height="14" viewBox="0 0 16 14"><path d="M0.5,2.5 L0.5,1.5 Q0.5,0.5 1.5,0.5 L5.5,0.5 L6.5,2 L14.5,2 L14.5,12.5 L0.5,12.5 Z" fill="#f4e070" stroke="#3c3c10"/><rect x="0.5" y="3.5" width="14" height="9" fill="#fcf094" stroke="#3c3c10"/><path d="M2,11 L13,5" stroke="#fff6d0" stroke-width="1" opacity=".6"/></svg><div class="a tr" style="left:865px;top:448px">Αναλυτικά αποτελέσματα υποστυλωμάτων</div><svg class="a" style="left:851px;top:465px" width="8" height="10" viewBox="0 0 8 10"><path d="M1.5,0.5 L6,4.75 L1.5,9 Z" fill="#fff" stroke="#a0a0a0"/></svg><svg class="a" style="left:864px;top:463px" width="16" height="14" viewBox="0 0 16 14"><path d="M0.5,2.5 L0.5,1.5 Q0.5,0.5 1.5,0.5 L5.5,0.5 L6.5,2 L14.5,2 L14.5,12.5 L0.5,12.5 Z" fill="#f4e070" stroke="#3c3c10"/><rect x="0.5" y="3.5" width="14" height="9" fill="#fcf094" stroke="#3c3c10"/><path d="M2,11 L13,5" stroke="#fff6d0" stroke-width="1" opacity=".6"/></svg><div class="a tr" style="left:885px;top:464px">K 1</div><svg class="a" style="left:851px;top:482px" width="8" height="8" viewBox="0 0 8 8"><path d="M6.5,1.5 L6.5,6.5 L1.5,6.5 Z" fill="#404040" stroke="#404040" stroke-linejoin="round"/></svg><svg class="a" style="left:864px;top:479px" width="16" height="14" viewBox="0 0 16 14"><path d="M0.5,2.5 L0.5,1.5 Q0.5,0.5 1.5,0.5 L5.5,0.5 L6.5,2 L14.5,2 L14.5,12.5 L0.5,12.5 Z" fill="#f4e070" stroke="#3c3c10"/><rect x="0.5" y="3.5" width="14" height="9" fill="#fcf094" stroke="#3c3c10"/><path d="M2,11 L13,5" stroke="#fff6d0" stroke-width="1" opacity=".6"/></svg><div class="a tr" style="left:885px;top:480px">K 2</div><svg class="a" style="left:886px;top:497px" width="10" height="9" viewBox="0 0 10 9"><path d="M1,0.5 L5,0.5 L9,4.5 L5,8.5 L1,8.5 L5,4.5 Z" fill="#20a020" stroke="#0a5a0a" stroke-width=".8"/></svg><div class="a tr" style="left:903px;top:496px">K 2 - Διαγράμματα</div><div class="a" style="left:804px;top:511px;width:241px;height:16px;border:1px solid #d0d0d0;border-radius:2px;background:linear-gradient(#f2f2f2,#e2e2e2)"></div><svg class="a" style="left:886px;top:513px" width="10" height="9" viewBox="0 0 10 9"><path d="M1,0.5 L5,0.5 L9,4.5 L5,8.5 L1,8.5 L5,4.5 Z" fill="#20a020" stroke="#0a5a0a" stroke-width=".8"/></svg><div class="a tr" style="left:903px;top:512px">K 2(0)</div><svg class="a" style="left:886px;top:529px" width="10" height="9" viewBox="0 0 10 9"><path d="M1,0.5 L5,0.5 L9,4.5 L5,8.5 L1,8.5 L5,4.5 Z" fill="#20a020" stroke="#0a5a0a" stroke-width=".8"/></svg><div class="a tr" style="left:903px;top:528px">K 2(1)</div><svg class="a" style="left:851px;top:545px" width="8" height="10" viewBox="0 0 8 10"><path d="M1.5,0.5 L6,4.75 L1.5,9 Z" fill="#fff" stroke="#a0a0a0"/></svg><svg class="a" style="left:864px;top:543px" width="16" height="14" viewBox="0 0 16 14"><path d="M0.5,2.5 L0.5,1.5 Q0.5,0.5 1.5,0.5 L5.5,0.5 L6.5,2 L14.5,2 L14.5,12.5 L0.5,12.5 Z" fill="#ffffff" stroke="#202020"/><rect x="0.5" y="3.5" width="14" height="9" fill="#ffffff" stroke="#202020"/></svg><div class="a tr" style="left:885px;top:544px">K 3</div><svg class="a" style="left:851px;top:561px" width="8" height="10" viewBox="0 0 8 10"><path d="M1.5,0.5 L6,4.75 L1.5,9 Z" fill="#fff" stroke="#a0a0a0"/></svg><svg class="a" style="left:864px;top:559px" width="16" height="14" viewBox="0 0 16 14"><path d="M0.5,2.5 L0.5,1.5 Q0.5,0.5 1.5,0.5 L5.5,0.5 L6.5,2 L14.5,2 L14.5,12.5 L0.5,12.5 Z" fill="#ffffff" stroke="#202020"/><rect x="0.5" y="3.5" width="14" height="9" fill="#ffffff" stroke="#202020"/></svg><div class="a tr" style="left:885px;top:560px">K 4</div><svg class="a" style="left:851px;top:577px" width="8" height="10" viewBox="0 0 8 10"><path d="M1.5,0.5 L6,4.75 L1.5,9 Z" fill="#fff" stroke="#a0a0a0"/></svg><svg class="a" style="left:864px;top:575px" width="16" height="14" viewBox="0 0 16 14"><path d="M0.5,2.5 L0.5,1.5 Q0.5,0.5 1.5,0.5 L5.5,0.5 L6.5,2 L14.5,2 L14.5,12.5 L0.5,12.5 Z" fill="#ffffff" stroke="#202020"/><rect x="0.5" y="3.5" width="14" height="9" fill="#ffffff" stroke="#202020"/></svg><div class="a tr" style="left:885px;top:576px">K 5</div><svg class="a" style="left:851px;top:593px" width="8" height="10" viewBox="0 0 8 10"><path d="M1.5,0.5 L6,4.75 L1.5,9 Z" fill="#fff" stroke="#a0a0a0"/></svg><svg class="a" style="left:864px;top:591px" width="16" height="14" viewBox="0 0 16 14"><path d="M0.5,2.5 L0.5,1.5 Q0.5,0.5 1.5,0.5 L5.5,0.5 L6.5,2 L14.5,2 L14.5,12.5 L0.5,12.5 Z" fill="#ffffff" stroke="#202020"/><rect x="0.5" y="3.5" width="14" height="9" fill="#ffffff" stroke="#202020"/></svg><div class="a tr" style="left:885px;top:592px">K 6</div><svg class="a" style="left:851px;top:609px" width="8" height="10" viewBox="0 0 8 10"><path d="M1.5,0.5 L6,4.75 L1.5,9 Z" fill="#fff" stroke="#a0a0a0"/></svg><svg class="a" style="left:864px;top:607px" width="16" height="14" viewBox="0 0 16 14"><path d="M0.5,2.5 L0.5,1.5 Q0.5,0.5 1.5,0.5 L5.5,0.5 L6.5,2 L14.5,2 L14.5,12.5 L0.5,12.5 Z" fill="#ffffff" stroke="#202020"/><rect x="0.5" y="3.5" width="14" height="9" fill="#ffffff" stroke="#202020"/></svg><div class="a tr" style="left:885px;top:608px">K 7</div><svg class="a" style="left:851px;top:625px" width="8" height="10" viewBox="0 0 8 10"><path d="M1.5,0.5 L6,4.75 L1.5,9 Z" fill="#fff" stroke="#a0a0a0"/></svg><svg class="a" style="left:864px;top:623px" width="16" height="14" viewBox="0 0 16 14"><path d="M0.5,2.5 L0.5,1.5 Q0.5,0.5 1.5,0.5 L5.5,0.5 L6.5,2 L14.5,2 L14.5,12.5 L0.5,12.5 Z" fill="#ffffff" stroke="#202020"/><rect x="0.5" y="3.5" width="14" height="9" fill="#ffffff" stroke="#202020"/></svg><div class="a tr" style="left:885px;top:624px">K 8</div><svg class="a" style="left:851px;top:641px" width="8" height="10" viewBox="0 0 8 10"><path d="M1.5,0.5 L6,4.75 L1.5,9 Z" fill="#fff" stroke="#a0a0a0"/></svg><svg class="a" style="left:864px;top:639px" width="16" height="14" viewBox="0 0 16 14"><path d="M0.5,2.5 L0.5,1.5 Q0.5,0.5 1.5,0.5 L5.5,0.5 L6.5,2 L14.5,2 L14.5,12.5 L0.5,12.5 Z" fill="#ffffff" stroke="#202020"/><rect x="0.5" y="3.5" width="14" height="9" fill="#ffffff" stroke="#202020"/></svg><div class="a tr" style="left:885px;top:640px">K 9</div><svg class="a" style="left:851px;top:657px" width="8" height="10" viewBox="0 0 8 10"><path d="M1.5,0.5 L6,4.75 L1.5,9 Z" fill="#fff" stroke="#a0a0a0"/></svg><svg class="a" style="left:864px;top:655px" width="16" height="14" viewBox="0 0 16 14"><path d="M0.5,2.5 L0.5,1.5 Q0.5,0.5 1.5,0.5 L5.5,0.5 L6.5,2 L14.5,2 L14.5,12.5 L0.5,12.5 Z" fill="#ffffff" stroke="#202020"/><rect x="0.5" y="3.5" width="14" height="9" fill="#ffffff" stroke="#202020"/></svg><div class="a tr" style="left:885px;top:656px">K 10</div><svg class="a" style="left:851px;top:673px" width="8" height="10" viewBox="0 0 8 10"><path d="M1.5,0.5 L6,4.75 L1.5,9 Z" fill="#fff" stroke="#a0a0a0"/></svg><svg class="a" style="left:864px;top:671px" width="16" height="14" viewBox="0 0 16 14"><path d="M0.5,2.5 L0.5,1.5 Q0.5,0.5 1.5,0.5 L5.5,0.5 L6.5,2 L14.5,2 L14.5,12.5 L0.5,12.5 Z" fill="#ffffff" stroke="#202020"/><rect x="0.5" y="3.5" width="14" height="9" fill="#ffffff" stroke="#202020"/></svg><div class="a tr" style="left:885px;top:672px">K 11</div><svg class="a" style="left:851px;top:689px" width="8" height="10" viewBox="0 0 8 10"><path d="M1.5,0.5 L6,4.75 L1.5,9 Z" fill="#fff" stroke="#a0a0a0"/></svg><svg class="a" style="left:864px;top:687px" width="16" height="14" viewBox="0 0 16 14"><path d="M0.5,2.5 L0.5,1.5 Q0.5,0.5 1.5,0.5 L5.5,0.5 L6.5,2 L14.5,2 L14.5,12.5 L0.5,12.5 Z" fill="#ffffff" stroke="#202020"/><rect x="0.5" y="3.5" width="14" height="9" fill="#ffffff" stroke="#202020"/></svg><div class="a tr" style="left:885px;top:688px">K 12</div><svg class="a" style="left:851px;top:705px" width="8" height="10" viewBox="0 0 8 10"><path d="M1.5,0.5 L6,4.75 L1.5,9 Z" fill="#fff" stroke="#a0a0a0"/></svg><svg class="a" style="left:864px;top:703px" width="16" height="14" viewBox="0 0 16 14"><path d="M0.5,2.5 L0.5,1.5 Q0.5,0.5 1.5,0.5 L5.5,0.5 L6.5,2 L14.5,2 L14.5,12.5 L0.5,12.5 Z" fill="#ffffff" stroke="#202020"/><rect x="0.5" y="3.5" width="14" height="9" fill="#ffffff" stroke="#202020"/></svg><div class="a tr" style="left:885px;top:704px">K 13</div><svg class="a" style="left:851px;top:721px" width="8" height="10" viewBox="0 0 8 10"><path d="M1.5,0.5 L6,4.75 L1.5,9 Z" fill="#fff" stroke="#a0a0a0"/></svg><svg class="a" style="left:864px;top:719px" width="16" height="14" viewBox="0 0 16 14"><path d="M0.5,2.5 L0.5,1.5 Q0.5,0.5 1.5,0.5 L5.5,0.5 L6.5,2 L14.5,2 L14.5,12.5 L0.5,12.5 Z" fill="#ffffff" stroke="#202020"/><rect x="0.5" y="3.5" width="14" height="9" fill="#ffffff" stroke="#202020"/></svg><div class="a tr" style="left:885px;top:720px">K 14</div><svg class="a" style="left:851px;top:737px" width="8" height="10" viewBox="0 0 8 10"><path d="M1.5,0.5 L6,4.75 L1.5,9 Z" fill="#fff" stroke="#a0a0a0"/></svg><svg class="a" style="left:864px;top:735px" width="16" height="14" viewBox="0 0 16 14"><path d="M0.5,2.5 L0.5,1.5 Q0.5,0.5 1.5,0.5 L5.5,0.5 L6.5,2 L14.5,2 L14.5,12.5 L0.5,12.5 Z" fill="#ffffff" stroke="#202020"/><rect x="0.5" y="3.5" width="14" height="9" fill="#ffffff" stroke="#202020"/></svg><div class="a tr" style="left:885px;top:736px">K 15</div><svg class="a" style="left:851px;top:753px" width="8" height="10" viewBox="0 0 8 10"><path d="M1.5,0.5 L6,4.75 L1.5,9 Z" fill="#fff" stroke="#a0a0a0"/></svg><svg class="a" style="left:864px;top:751px" width="16" height="14" viewBox="0 0 16 14"><path d="M0.5,2.5 L0.5,1.5 Q0.5,0.5 1.5,0.5 L5.5,0.5 L6.5,2 L14.5,2 L14.5,12.5 L0.5,12.5 Z" fill="#ffffff" stroke="#202020"/><rect x="0.5" y="3.5" width="14" height="9" fill="#ffffff" stroke="#202020"/></svg><div class="a tr" style="left:885px;top:752px">K 16</div><svg class="a" style="left:851px;top:769px" width="8" height="10" viewBox="0 0 8 10"><path d="M1.5,0.5 L6,4.75 L1.5,9 Z" fill="#fff" stroke="#a0a0a0"/></svg><svg class="a" style="left:864px;top:767px" width="16" height="14" viewBox="0 0 16 14"><path d="M0.5,2.5 L0.5,1.5 Q0.5,0.5 1.5,0.5 L5.5,0.5 L6.5,2 L14.5,2 L14.5,12.5 L0.5,12.5 Z" fill="#ffffff" stroke="#202020"/><rect x="0.5" y="3.5" width="14" height="9" fill="#ffffff" stroke="#202020"/></svg><div class="a tr" style="left:885px;top:768px">K 17</div><svg class="a" style="left:851px;top:785px" width="8" height="10" viewBox="0 0 8 10"><path d="M1.5,0.5 L6,4.75 L1.5,9 Z" fill="#fff" stroke="#a0a0a0"/></svg><svg class="a" style="left:864px;top:783px" width="16" height="14" viewBox="0 0 16 14"><path d="M0.5,2.5 L0.5,1.5 Q0.5,0.5 1.5,0.5 L5.5,0.5 L6.5,2 L14.5,2 L14.5,12.5 L0.5,12.5 Z" fill="#ffffff" stroke="#202020"/><rect x="0.5" y="3.5" width="14" height="9" fill="#ffffff" stroke="#202020"/></svg><div class="a tr" style="left:885px;top:784px">K 18</div><svg class="a" style="left:851px;top:801px" width="8" height="10" viewBox="0 0 8 10"><path d="M1.5,0.5 L6,4.75 L1.5,9 Z" fill="#fff" stroke="#a0a0a0"/></svg><svg class="a" style="left:864px;top:799px" width="16" height="14" viewBox="0 0 16 14"><path d="M0.5,2.5 L0.5,1.5 Q0.5,0.5 1.5,0.5 L5.5,0.5 L6.5,2 L14.5,2 L14.5,12.5 L0.5,12.5 Z" fill="#ffffff" stroke="#202020"/><rect x="0.5" y="3.5" width="14" height="9" fill="#ffffff" stroke="#202020"/></svg><div class="a tr" style="left:885px;top:800px">K 19</div><svg class="a" style="left:851px;top:817px" width="8" height="10" viewBox="0 0 8 10"><path d="M1.5,0.5 L6,4.75 L1.5,9 Z" fill="#fff" stroke="#a0a0a0"/></svg><svg class="a" style="left:864px;top:815px" width="16" height="14" viewBox="0 0 16 14"><path d="M0.5,2.5 L0.5,1.5 Q0.5,0.5 1.5,0.5 L5.5,0.5 L6.5,2 L14.5,2 L14.5,12.5 L0.5,12.5 Z" fill="#ffffff" stroke="#202020"/><rect x="0.5" y="3.5" width="14" height="9" fill="#ffffff" stroke="#202020"/></svg><div class="a tr" style="left:885px;top:816px">K 20</div><svg class="a" style="left:851px;top:833px" width="8" height="10" viewBox="0 0 8 10"><path d="M1.5,0.5 L6,4.75 L1.5,9 Z" fill="#fff" stroke="#a0a0a0"/></svg><svg class="a" style="left:864px;top:831px" width="16" height="14" viewBox="0 0 16 14"><path d="M0.5,2.5 L0.5,1.5 Q0.5,0.5 1.5,0.5 L5.5,0.5 L6.5,2 L14.5,2 L14.5,12.5 L0.5,12.5 Z" fill="#ffffff" stroke="#202020"/><rect x="0.5" y="3.5" width="14" height="9" fill="#ffffff" stroke="#202020"/></svg><div class="a tr" style="left:885px;top:832px">K 21</div><svg class="a" style="left:826px;top:847px" width="16" height="14" viewBox="0 0 16 14"><path d="M0.5,2.5 L0.5,1.5 Q0.5,0.5 1.5,0.5 L5.5,0.5 L6.5,2 L14.5,2 L14.5,12.5 L0.5,12.5 Z" fill="#acacac" stroke="#6e6e6e"/><rect x="0.5" y="3.5" width="14" height="9" fill="#bcbcbc" stroke="#6e6e6e"/></svg><div class="a tr" style="left:846px;top:848px">Συνολική προμέτρηση κτιρίου</div><svg class="a" style="left:826px;top:863px" width="16" height="14" viewBox="0 0 16 14"><path d="M0.5,2.5 L0.5,1.5 Q0.5,0.5 1.5,0.5 L5.5,0.5 L6.5,2 L14.5,2 L14.5,12.5 L0.5,12.5 Z" fill="#acacac" stroke="#6e6e6e"/><rect x="0.5" y="3.5" width="14" height="9" fill="#bcbcbc" stroke="#6e6e6e"/></svg><div class="a tr" style="left:846px;top:864px">Προμέτρηση ενισχυμένων τοιχοποιιών</div></div></div><div class="a" style="left:804px;top:908px;width:240px;height:15px;background:#ececec"></div><div class="a" style="left:822px;top:908px;width:182px;height:15px;border:1px solid #9a9a9a;border-radius:2px;background:linear-gradient(#f4f4f4,#e6e6e6 50%,#d4d4d4)"></div><div class="a" style="left:910px;top:912px;width:6px;height:7px;background:repeating-linear-gradient(90deg,#555 0 1px,transparent 1px 2px)"></div><svg class="a" style="left:808px;top:912px" width="6" height="8"><path d="M5,0L1,4L5,8Z" fill="#606060"/></svg><svg class="a" style="left:1033px;top:912px" width="6" height="8"><path d="M1,0L5,4L1,8Z" fill="#606060"/></svg><div class="a" style="left:1053px;top:197px;width:830px;height:731px;background:#fff;border-left:1px solid #a0a0a0;border-top:1px solid #a0a0a0"></div><div class="a" style="left:798px;top:197px;width:250px;height:1px;background:#a0a0a0"></div><svg class="a" style="left:1054px;top:198px" width="820" height="730" viewBox="1054 198 820 730"><g font-family="Liberation Sans, sans-serif"><text x="1070" y="212.6" font-size="15" fill="#0f8f0f" font-style="italic" textLength="760" lengthAdjust="spacingAndGlyphs">Ισορροπία διατομής κρίσιμης φόρτισης: ΣΣ27: G+ψ2Q - (EI+emin) -0.3 (EII+emax), εντός επιπέδου.</text><text x="1070" y="232.4" font-size="15" fill="#0f8f0f" font-style="italic" textLength="149" lengthAdjust="spacingAndGlyphs">Θέση: K 2(0), αρχή.</text><line x1="1070.5" y1="236" x2="1070.5" y2="744.5" stroke="#000" stroke-width="1.3"/><line x1="1850.5" y1="236" x2="1850.5" y2="744.5" stroke="#000" stroke-width="1.3"/><line x1="1070" y1="236.5" x2="1851" y2="236.5" stroke="#000" stroke-width="1.3"/><line x1="1070" y1="490.8" x2="1851" y2="490.8" stroke="#000" stroke-width="1.3"/><line x1="1070" y1="744.5" x2="1851" y2="744.5" stroke="#000" stroke-width="1.3" stroke-dasharray="11,6"/><line x1="1055" y1="746.5" x2="1859" y2="746.5" stroke="#c8c8f0" stroke-width="1"/><text x="1856" y="750" font-size="9" fill="#b0b0e8">19</text><text x="1269.4" y="255" font-size="12" fill="#000" font-weight="bold" textLength="381" lengthAdjust="spacingAndGlyphs">Δράση: N=-238.05kN, My=-512.76. Δράση / Οριακή αντοχή = λ = 0.41.</text><rect x="1300.5" y="408.5" width="44.0" height="45.0" fill="#fcd67a"/><rect x="1300.5" y="275.5" width="44.0" height="178.0" fill="none" stroke="#000" stroke-width="1"/><line x1="1307.5" y1="275.5" x2="1307.5" y2="453.5" stroke="#000" stroke-width="1"/><line x1="1338.5" y1="275.5" x2="1338.5" y2="453.5" stroke="#000" stroke-width="1"/><rect x="1303.5" y="281.5" width="1.5" height="1.5" fill="#000"/><rect x="1339" y="281.5" width="1.5" height="1.5" fill="#000"/><rect x="1303.5" y="294.2" width="1.5" height="1.5" fill="#000"/><rect x="1339" y="294.2" width="1.5" height="1.5" fill="#000"/><rect x="1303.5" y="306.9" width="1.5" height="1.5" fill="#000"/><rect x="1339" y="306.9" width="1.5" height="1.5" fill="#000"/><rect x="1303.5" y="319.59999999999997" width="1.5" height="1.5" fill="#000"/><rect x="1339" y="319.59999999999997" width="1.5" height="1.5" fill="#000"/><rect x="1303.5" y="332.29999999999995" width="1.5" height="1.5" fill="#000"/><rect x="1339" y="332.29999999999995" width="1.5" height="1.5" fill="#000"/><rect x="1303.5" y="344.99999999999994" width="1.5" height="1.5" fill="#000"/><rect x="1339" y="344.99999999999994" width="1.5" height="1.5" fill="#000"/><rect x="1303.5" y="357.69999999999993" width="1.5" height="1.5" fill="#000"/><rect x="1339" y="357.69999999999993" width="1.5" height="1.5" fill="#000"/><rect x="1303.5" y="370.3999999999999" width="1.5" height="1.5" fill="#000"/><rect x="1339" y="370.3999999999999" width="1.5" height="1.5" fill="#000"/><rect x="1303.5" y="383.0999999999999" width="1.5" height="1.5" fill="#000"/><rect x="1339" y="383.0999999999999" width="1.5" height="1.5" fill="#000"/><rect x="1303.5" y="395.7999999999999" width="1.5" height="1.5" fill="#000"/><rect x="1339" y="395.7999999999999" width="1.5" height="1.5" fill="#000"/><rect x="1303.5" y="408.4999999999999" width="1.5" height="1.5" fill="#000"/><rect x="1339" y="408.4999999999999" width="1.5" height="1.5" fill="#000"/><rect x="1303.5" y="421.1999999999999" width="1.5" height="1.5" fill="#000"/><rect x="1339" y="421.1999999999999" width="1.5" height="1.5" fill="#000"/><rect x="1303.5" y="433.89999999999986" width="1.5" height="1.5" fill="#000"/><rect x="1339" y="433.89999999999986" width="1.5" height="1.5" fill="#000"/><rect x="1303.5" y="446.59999999999985" width="1.5" height="1.5" fill="#000"/><rect x="1339" y="446.59999999999985" width="1.5" height="1.5" fill="#000"/><text x="1296.5" y="402.5" font-size="10.5" fill="#e83030" font-weight="bold">Ουδ.</text><text x="1296.5" y="418.5" font-size="10.5" fill="#e83030" font-weight="bold">Άξ.</text><line x1="1276.5" y1="403.5" x2="1276.5" y2="458.5" stroke="#505050" stroke-width="1"/><line x1="1270.5" y1="408.5" x2="1285.5" y2="408.5" stroke="#505050" stroke-width="1"/><line x1="1270.5" y1="453.5" x2="1285.5" y2="453.5" stroke="#505050" stroke-width="1"/><line x1="1274.5" y1="411.5" x2="1278.5" y2="405.5" stroke="#505050" stroke-width="1"/><line x1="1274.5" y1="456.5" x2="1278.5" y2="450.5" stroke="#505050" stroke-width="1"/><rect x="1271" y="425" width="42" height="11" fill="#fff"/><text x="1272" y="434" font-size="10" fill="#000" textLength="41" lengthAdjust="spacingAndGlyphs">x=508mm</text><path d="M1287.5,442L1287.5,463.5L1310,463.5" stroke="#000" stroke-width="1" fill="none"/><path d="M1305,461.0L1310,463.5L1305,466.0Z" stroke="#000" stroke-width="1" fill="#000"/><path d="M1287.5,442" stroke="#000" stroke-width="1" fill="none"/><path d="M1285.0,443L1287.5,438L1290.0,443Z" stroke="#000" stroke-width="1" fill="#000"/><text x="1313" y="468.5" font-size="12" fill="#222">Z</text><path d="M1322.5,344.5L1322.5,364.5L1344.5,364.5" stroke="#000" stroke-width="1" fill="none"/><path d="M1320.0,347.5L1322.5,342.5L1325.0,347.5Z" stroke="#000" stroke-width="1" fill="#000"/><path d="M1340.5,362.0L1345.5,364.5L1340.5,367.0Z" stroke="#000" stroke-width="1" fill="#000"/><text x="1319.5" y="342.5" font-size="9" fill="#222">z</text><text x="1346.5" y="368.5" font-size="10" fill="#222">y</text><line x1="1295" y1="408.5" x2="1361" y2="408.5" stroke="#e83a2a" stroke-width="1.3"/><line x1="1388" y1="408.5" x2="1455" y2="408.5" stroke="#e83a2a" stroke-width="1.3"/><line x1="1481" y1="408.5" x2="1547" y2="408.5" stroke="#e83a2a" stroke-width="1.3"/><line x1="1575" y1="408.5" x2="1640" y2="408.5" stroke="#e83a2a" stroke-width="1.3"/><line x1="1374" y1="408.5" x2="1376" y2="408.5" stroke="#e83a2a" stroke-width="1.3"/><line x1="1467" y1="408.5" x2="1469" y2="408.5" stroke="#e83a2a" stroke-width="1.3"/><line x1="1560" y1="408.5" x2="1562" y2="408.5" stroke="#e83a2a" stroke-width="1.3"/><line x1="1654" y1="408.5" x2="1656" y2="408.5" stroke="#e83a2a" stroke-width="1.3"/><line x1="1399.5" y1="275" x2="1399.5" y2="454" stroke="#000" stroke-width="1"/><path d="M1403,275.5L1483.5,275.5L1403,403" stroke="#000" stroke-width="1" fill="none"/><path d="M1396,414L1371.5,453.5L1396,453.5" stroke="#000" stroke-width="1" fill="none"/><text x="1441" y="270.5" font-size="10.5" fill="#333" text-anchor="middle">1.43</text><circle cx="1431" cy="309" r="4" fill="none" stroke="#7ab838" stroke-width="1"/><line x1="1428.5" y1="309" x2="1433.5" y2="309" stroke="#7ab838" stroke-width="1"/><line x1="1431" y1="306.5" x2="1431" y2="311.5" stroke="#7ab838" stroke-width="1"/><circle cx="1389" cy="442" r="4" fill="none" stroke="#e83030" stroke-width="1"/><line x1="1386.5" y1="442" x2="1391.5" y2="442" stroke="#e83030" stroke-width="1"/><text x="1385" y="464" font-size="10.5" fill="#333" text-anchor="middle">-0.49</text><text x="1367" y="471.5" font-size="16" fill="#111" font-weight="bold">ε</text><text x="1377" y="470.5" font-size="9" fill="#555">[/1000]</text><line x1="1507.5" y1="275" x2="1507.5" y2="454" stroke="#000" stroke-width="1"/><path d="M1510,275.5L1607,275.5L1510,404.6" stroke="#000" stroke-width="1" fill="none"/><path d="M1505,412L1473.5,453.5L1504,453.5" stroke="#000" stroke-width="1" fill="none"/><text x="1556" y="270.5" font-size="10.5" fill="#333" text-anchor="middle">286.11</text><circle cx="1544.6" cy="309" r="4" fill="none" stroke="#7ab838" stroke-width="1"/><line x1="1542.1" y1="309" x2="1547.1" y2="309" stroke="#7ab838" stroke-width="1"/><line x1="1544.6" y1="306.5" x2="1544.6" y2="311.5" stroke="#7ab838" stroke-width="1"/><circle cx="1495" cy="441.6" r="4" fill="none" stroke="#e83030" stroke-width="1"/><line x1="1492.5" y1="441.6" x2="1497.5" y2="441.6" stroke="#e83030" stroke-width="1"/><text x="1490" y="464" font-size="10.5" fill="#333" text-anchor="middle">-97.30</text><text x="1466" y="471.5" font-size="16" fill="#111" font-weight="bold">σs</text><text x="1487" y="470.5" font-size="9" fill="#555">[MPa]</text><line x1="1649.5" y1="275" x2="1649.5" y2="454" stroke="#000" stroke-width="1"/><path d="M1533,453.5L1647,453.5M1533,453.5Q1585,428 1640,412" stroke="#000" stroke-width="1" fill="none"/><circle cx="1608" cy="441.6" r="4" fill="none" stroke="#e83030" stroke-width="1"/><line x1="1605.5" y1="441.6" x2="1610.5" y2="441.6" stroke="#e83030" stroke-width="1"/><text x="1590.5" y="464" font-size="10.5" fill="#333" text-anchor="middle">-3.31</text><text x="1563.8" y="471.5" font-size="16" fill="#111" font-weight="bold">σw</text><text x="1587.8" y="470.5" font-size="9" fill="#555">[MPa]</text><text x="1338.3" y="509" font-size="12" fill="#000" font-weight="bold" textLength="240" lengthAdjust="spacingAndGlyphs">Οριακή αντοχή: N=-585.96kN, My=-1262.09.</text><rect x="1306.5" y="651.5" width="42.0" height="40.0" fill="#fcd67a"/><rect x="1306.5" y="529.5" width="42.0" height="162.0" fill="none" stroke="#000" stroke-width="1"/><line x1="1312.5" y1="529.5" x2="1312.5" y2="691.5" stroke="#000" stroke-width="1"/><line x1="1341.5" y1="529.5" x2="1341.5" y2="691.5" stroke="#000" stroke-width="1"/><rect x="1309.5" y="535.5" width="1.5" height="1.5" fill="#000"/><rect x="1344" y="535.5" width="1.5" height="1.5" fill="#000"/><rect x="1309.5" y="548.2" width="1.5" height="1.5" fill="#000"/><rect x="1344" y="548.2" width="1.5" height="1.5" fill="#000"/><rect x="1309.5" y="560.9000000000001" width="1.5" height="1.5" fill="#000"/><rect x="1344" y="560.9000000000001" width="1.5" height="1.5" fill="#000"/><rect x="1309.5" y="573.6000000000001" width="1.5" height="1.5" fill="#000"/><rect x="1344" y="573.6000000000001" width="1.5" height="1.5" fill="#000"/><rect x="1309.5" y="586.3000000000002" width="1.5" height="1.5" fill="#000"/><rect x="1344" y="586.3000000000002" width="1.5" height="1.5" fill="#000"/><rect x="1309.5" y="599.0000000000002" width="1.5" height="1.5" fill="#000"/><rect x="1344" y="599.0000000000002" width="1.5" height="1.5" fill="#000"/><rect x="1309.5" y="611.7000000000003" width="1.5" height="1.5" fill="#000"/><rect x="1344" y="611.7000000000003" width="1.5" height="1.5" fill="#000"/><rect x="1309.5" y="624.4000000000003" width="1.5" height="1.5" fill="#000"/><rect x="1344" y="624.4000000000003" width="1.5" height="1.5" fill="#000"/><rect x="1309.5" y="637.1000000000004" width="1.5" height="1.5" fill="#000"/><rect x="1344" y="637.1000000000004" width="1.5" height="1.5" fill="#000"/><rect x="1309.5" y="649.8000000000004" width="1.5" height="1.5" fill="#000"/><rect x="1344" y="649.8000000000004" width="1.5" height="1.5" fill="#000"/><rect x="1309.5" y="662.5000000000005" width="1.5" height="1.5" fill="#000"/><rect x="1344" y="662.5000000000005" width="1.5" height="1.5" fill="#000"/><rect x="1309.5" y="675.2000000000005" width="1.5" height="1.5" fill="#000"/><rect x="1344" y="675.2000000000005" width="1.5" height="1.5" fill="#000"/><rect x="1309.5" y="687.9000000000005" width="1.5" height="1.5" fill="#000"/><rect x="1344" y="687.9000000000005" width="1.5" height="1.5" fill="#000"/><text x="1302.5" y="645.5" font-size="10.5" fill="#e83030" font-weight="bold">Ουδ.</text><text x="1302.5" y="661.5" font-size="10.5" fill="#e83030" font-weight="bold">Άξ.</text><line x1="1285.5" y1="646.5" x2="1285.5" y2="696.5" stroke="#505050" stroke-width="1"/><line x1="1279.5" y1="651.5" x2="1294.5" y2="651.5" stroke="#505050" stroke-width="1"/><line x1="1279.5" y1="691.5" x2="1294.5" y2="691.5" stroke="#505050" stroke-width="1"/><line x1="1283.5" y1="654.5" x2="1287.5" y2="648.5" stroke="#505050" stroke-width="1"/><line x1="1283.5" y1="694.5" x2="1287.5" y2="688.5" stroke="#505050" stroke-width="1"/><rect x="1279" y="665" width="42" height="11" fill="#fff"/><text x="1280" y="674" font-size="10" fill="#000" textLength="41" lengthAdjust="spacingAndGlyphs">x=495mm</text><path d="M1293.5,682L1293.5,700.5L1316,700.5" stroke="#000" stroke-width="1" fill="none"/><path d="M1311,698.0L1316,700.5L1311,703.0Z" stroke="#000" stroke-width="1" fill="#000"/><path d="M1293.5,682" stroke="#000" stroke-width="1" fill="none"/><path d="M1291.0,683L1293.5,678L1296.0,683Z" stroke="#000" stroke-width="1" fill="#000"/><text x="1319" y="705.5" font-size="12" fill="#222">Z</text><path d="M1326.5,590.5L1326.5,610.5L1348.5,610.5" stroke="#000" stroke-width="1" fill="none"/><path d="M1324.0,593.5L1326.5,588.5L1329.0,593.5Z" stroke="#000" stroke-width="1" fill="#000"/><path d="M1344.5,608.0L1349.5,610.5L1344.5,613.0Z" stroke="#000" stroke-width="1" fill="#000"/><text x="1323.5" y="588.5" font-size="9" fill="#222">z</text><text x="1350.5" y="614.5" font-size="10" fill="#222">y</text><line x1="1302" y1="651.5" x2="1368" y2="651.5" stroke="#e83a2a" stroke-width="1.3"/><line x1="1395" y1="651.5" x2="1461.7" y2="651.5" stroke="#e83a2a" stroke-width="1.3"/><line x1="1488.5" y1="651.5" x2="1554.8" y2="651.5" stroke="#e83a2a" stroke-width="1.3"/><line x1="1581.6" y1="651.5" x2="1648" y2="651.5" stroke="#e83a2a" stroke-width="1.3"/><line x1="1381" y1="651.5" x2="1383" y2="651.5" stroke="#e83a2a" stroke-width="1.3"/><line x1="1474" y1="651.5" x2="1476" y2="651.5" stroke="#e83a2a" stroke-width="1.3"/><line x1="1567.4" y1="651.5" x2="1569.4" y2="651.5" stroke="#e83a2a" stroke-width="1.3"/><line x1="1411.5" y1="529" x2="1411.5" y2="692" stroke="#000" stroke-width="1"/><path d="M1415,529.5L1489.7,529.5L1414.5,645.7" stroke="#000" stroke-width="1" fill="none"/><path d="M1408,656.3L1385.3,691.5L1408,691.5M1391,681.5L1408,681.5" stroke="#000" stroke-width="1" fill="none"/><text x="1400" y="677" font-size="10.5" fill="#333" text-anchor="middle">-1.5</text><text x="1449" y="524.5" font-size="10.5" fill="#333" text-anchor="middle">6.08</text><circle cx="1440.5" cy="560" r="4" fill="none" stroke="#7ab838" stroke-width="1"/><line x1="1438.0" y1="560" x2="1443.0" y2="560" stroke="#7ab838" stroke-width="1"/><line x1="1440.5" y1="557.5" x2="1440.5" y2="562.5" stroke="#7ab838" stroke-width="1"/><text x="1397" y="703" font-size="10.5" fill="#333" text-anchor="middle">-2.00</text><text x="1380.5" y="710" font-size="16" fill="#111" font-weight="bold">ε</text><text x="1390.5" y="709" font-size="9" fill="#555">[/1000]</text><line x1="1512.5" y1="529" x2="1512.5" y2="692" stroke="#000" stroke-width="1"/><path d="M1515,529.5L1604.6,529.5L1604.6,601.5L1515,601.5M1604.6,601.5L1516.5,648.8" stroke="#000" stroke-width="1" fill="none"/><path d="M1507.6,654.6L1440,691.5L1510,691.5" stroke="#000" stroke-width="1" fill="none"/><text x="1557.4" y="524.5" font-size="10.5" fill="#333" text-anchor="middle">500.00</text><circle cx="1558.7" cy="560.2" r="4" fill="none" stroke="#7ab838" stroke-width="1"/><line x1="1556.2" y1="560.2" x2="1561.2" y2="560.2" stroke="#7ab838" stroke-width="1"/><line x1="1558.7" y1="557.7" x2="1558.7" y2="562.7" stroke="#7ab838" stroke-width="1"/><text x="1557.4" y="612.5" font-size="10.5" fill="#333" text-anchor="middle">σsy</text><circle cx="1484.6" cy="681" r="4" fill="none" stroke="#e83030" stroke-width="1"/><line x1="1482.1" y1="681" x2="1487.1" y2="681" stroke="#e83030" stroke-width="1"/><text x="1475.7" y="703" font-size="10.5" fill="#333" text-anchor="middle">-400.00</text><text x="1452.7" y="710" font-size="16" fill="#111" font-weight="bold">σs</text><text x="1473.7" y="709" font-size="9" fill="#555">[MPa]</text><line x1="1643.5" y1="529" x2="1643.5" y2="692" stroke="#000" stroke-width="1"/><path d="M1626.3,654Q1560,662 1537,677.6L1537,691.5L1640.8,691.5M1537,681.5L1640.8,681.5" stroke="#000" stroke-width="1" fill="none"/><text x="1589.3" y="676.3" font-size="10.5" fill="#333" text-anchor="middle">fd</text><text x="1589" y="703" font-size="10.5" fill="#333" text-anchor="middle">-6.08</text><text x="1562.5" y="710" font-size="16" fill="#111" font-weight="bold">σw</text><text x="1586.5" y="709" font-size="9" fill="#555">[MPa]</text><line x1="1264" y1="712.5" x2="1655" y2="712.5" stroke="#808080" stroke-width="1"/><rect x="1264.3" y="718.4" width="24.7" height="11.4" fill="#fcd67a"/><text x="1294" y="727.3" font-size="10.5" fill="#111" textLength="79" lengthAdjust="spacingAndGlyphs">Θλιβόμενη ζώνη</text><rect x="1392" y="724.5" width="1.5" height="1.5" fill="#000"/><text x="1397.3" y="726" font-size="9" fill="#111">Φ10</text><text x="1070" y="777" font-size="15" fill="#0f8f0f" font-style="italic" textLength="259" lengthAdjust="spacingAndGlyphs">λ  =  Ed / Rd  =  [Δράση / Αντοχή]</text><text x="1105.8" y="821.8" font-size="12.5" fill="#111">λ</text><text x="1116.7" y="821.8" font-size="12.5" fill="#111">=</text><line x1="1129" y1="818.4" x2="1232" y2="818.4" stroke="#111" stroke-width="1.4"/><path d="M1133.5,809.5L1136.5,807.5L1142.0,816.5L1149.5,797.5L1227.5,797.5" stroke="#111" stroke-width="1.2" fill="none"/><path d="M1133.5,832L1136.5,830L1142,840L1149.8,820.5" stroke="#111" stroke-width="1.2" fill="none"/><text x="1150.5" y="814" font-size="15.5" fill="#111">N</text><text x="1162" y="806" font-size="8.5" fill="#111">2</text><text x="1162" y="814" font-size="7.5" fill="#111" textLength="9" lengthAdjust="spacingAndGlyphs">Ed</text><text x="1178" y="814" font-size="15.5" fill="#111">+</text><text x="1193" y="814" font-size="15.5" fill="#111">M</text><text x="1207.5" y="806" font-size="8.5" fill="#111">2</text><text x="1207.5" y="814" font-size="7.5" fill="#111" textLength="12" lengthAdjust="spacingAndGlyphs">EdY</text><text x="1150.5" y="834.7" font-size="15.5" fill="#111">N</text><text x="1162" y="826.7" font-size="8.5" fill="#111">2</text><text x="1162" y="834.7" font-size="7.5" fill="#111" textLength="9" lengthAdjust="spacingAndGlyphs">Rd</text><text x="1178" y="834.7" font-size="15.5" fill="#111">+</text><text x="1193" y="834.7" font-size="15.5" fill="#111">M</text><text x="1207.5" y="826.7" font-size="8.5" fill="#111">2</text><text x="1207.5" y="834.7" font-size="7.5" fill="#111" textLength="12.5" lengthAdjust="spacingAndGlyphs">RdY</text><text x="1238.5" y="822" font-size="15.5" fill="#111">=</text><line x1="1258.3" y1="818.2" x2="1455.2" y2="818.2" stroke="#111" stroke-width="1.4"/><path d="M1266.3,806L1269,804.5L1274,814L1281,799.4L1447,799.4" stroke="#111" stroke-width="1.2" fill="none"/><path d="M1262,825L1265,823.5L1270,834L1277,819.5" stroke="#111" stroke-width="1.2" fill="none"/><text x="1282.3" y="814.6" font-size="15.5" fill="#111" textLength="59" lengthAdjust="spacingAndGlyphs">(-238.05)</text><text x="1345" y="807" font-size="8.5" fill="#111">2</text><text x="1358" y="814.6" font-size="15.5" fill="#111">+</text><text x="1372" y="814.6" font-size="15.5" fill="#111" textLength="59" lengthAdjust="spacingAndGlyphs">(-512.76)</text><text x="1435" y="807" font-size="8.5" fill="#111">2</text><text x="1278" y="833.8" font-size="15.5" fill="#111" textLength="59" lengthAdjust="spacingAndGlyphs">(-585.96)</text><text x="1340" y="826" font-size="8.5" fill="#111">2</text><text x="1354" y="833.8" font-size="15.5" fill="#111">+</text><text x="1368" y="833.8" font-size="15.5" fill="#111" textLength="67" lengthAdjust="spacingAndGlyphs">(-1262.09)</text><text x="1440" y="826" font-size="8.5" fill="#111">2</text><text x="1462.5" y="822" font-size="15.5" fill="#111">=</text><line x1="1479" y1="818.2" x2="1543.8" y2="818.2" stroke="#111" stroke-width="1.2"/><text x="1486.5" y="814.6" font-size="15.5" fill="#111" textLength="43.5" lengthAdjust="spacingAndGlyphs">565.33</text><text x="1482" y="833.8" font-size="15.5" fill="#111" textLength="52" lengthAdjust="spacingAndGlyphs">1391.48</text><text x="1550" y="822.3" font-size="15.5" fill="#111">=</text><text x="1568.7" y="822.3" font-size="15.5" fill="#111" textLength="27" lengthAdjust="spacingAndGlyphs">0.41</text><text x="1070" y="872.7" font-size="15" fill="#0f8f0f" font-style="italic" textLength="219" lengthAdjust="spacingAndGlyphs">Ισορροπία δυνάμεων αντοχής</text><text x="1111.7" y="908.6" font-size="15.5" fill="#111">N</text><text x="1121" y="909" font-size="7.5" fill="#111" textLength="9" lengthAdjust="spacingAndGlyphs">Rd</text><text x="1149" y="908.6" font-size="15.5" fill="#111">=</text><path d="M1177.5,892.5L1165,892.5L1171.5,902L1165,911.5L1178,911.5" stroke="#111" stroke-width="1.5" fill="none"/><text x="1179.5" y="908.6" font-size="15.5" fill="#111">σ</text><text x="1188" y="910" font-size="7.5" fill="#111">c</text><text x="1194.5" y="908.6" font-size="15.5" fill="#111" textLength="17" lengthAdjust="spacingAndGlyphs">dA</text><text x="1168.7" y="924.7" font-size="10" fill="#111">A</text><text x="1232" y="908.6" font-size="15.5" fill="#111">+</text><text x="1246" y="886" font-size="9.5" fill="#111" textLength="41" lengthAdjust="spacingAndGlyphs">n ράβδων</text><path d="M1277,894.5L1263,894.5L1270,904L1263,913.5L1277.5,913.5" stroke="#111" stroke-width="1.5" fill="none"/><text x="1261" y="927.3" font-size="10" fill="#111" textLength="13" lengthAdjust="spacingAndGlyphs">i=1</text><text x="1292" y="908.6" font-size="15.5" fill="#111">σ</text><text x="1300.5" y="910" font-size="7.5" fill="#111">si</text><text x="1308" y="908.6" font-size="15.5" fill="#111">A</text><text x="1318" y="910" font-size="7.5" fill="#111">i</text><text x="1351.6" y="908.6" font-size="15.5" fill="#111" textLength="285" lengthAdjust="spacingAndGlyphs">= (-1127.06kN) + (541.10kN) = -585.96kN</text></g></svg><div class="a" style="left:1867px;top:199px;width:15px;height:728px;background:linear-gradient(90deg,#e6e6e6,#f0f0f0 40%,#f0f0f0)"></div><div class="a" style="left:1867px;top:199px;width:15px;height:16px;border:1px solid #9a9a9a;border-radius:2px;background:linear-gradient(90deg,#f2f2f2,#e8e8e8 50%,#d4d4d4)"></div><svg class="a" style="left:1870px;top:204px" width="9" height="6"><path d="M0.5,5L4.5,1L8.5,5" fill="#404040" stroke="#404040"/></svg><div class="a" style="left:1867px;top:911px;width:15px;height:16px;border:1px solid #9a9a9a;border-radius:2px;background:linear-gradient(90deg,#f2f2f2,#e8e8e8 50%,#d4d4d4)"></div><svg class="a" style="left:1870px;top:916px" width="9" height="6"><path d="M0.5,1L4.5,5L8.5,1" fill="#404040" stroke="#404040"/></svg><div class="a" style="left:1867px;top:585px;width:14px;height:29px;border:1px solid #3c7fb1;border-radius:2px;background:linear-gradient(90deg,#e8f6fd,#d4eefc 50%,#a8dcf6)"></div><div class="a" style="left:1870px;top:595px;width:7px;height:7px;background:repeating-linear-gradient(#2a3a50 0 1px,transparent 1px 3px)"></div><div class="a" style="left:814px;top:935px;font-size:10.5px;color:#111;white-space:nowrap">Σχ 79/2435 MHz</div><div class="a" style="left:922px;top:935px;font-size:10.5px;color:#111;white-space:nowrap">ΛΣ 6.1.7601</div><div class="a" style="left:1018px;top:935px;font-size:10.5px;color:#111;white-space:nowrap">MMGR(10M/155k), XM 13019 MB</div><div class="a" style="left:1222px;top:935px;font-size:10.5px;color:#111;white-space:nowrap">Τμ 26/73</div><div class="a" style="left:1312px;top:935px;font-size:10.5px;color:#111;white-space:nowrap">Αρ. Σελίδων 26</div><div class="a" style="left:1419px;top:935px;font-size:10.5px;color:#111;white-space:nowrap">Objs 4919/4945</div><div class="a" style="left:909px;top:932px;width:1px;height:18px;background:#b8b8b8;box-shadow:1px 0 0 #fff"></div><div class="a" style="left:993px;top:932px;width:1px;height:18px;background:#b8b8b8;box-shadow:1px 0 0 #fff"></div><div class="a" style="left:1198px;top:932px;width:1px;height:18px;background:#b8b8b8;box-shadow:1px 0 0 #fff"></div><div class="a" style="left:1291px;top:932px;width:1px;height:18px;background:#b8b8b8;box-shadow:1px 0 0 #fff"></div><div class="a" style="left:1406px;top:932px;width:1px;height:18px;background:#b8b8b8;box-shadow:1px 0 0 #fff"></div><div class="a" style="left:1510px;top:932px;width:1px;height:18px;background:#b8b8b8;box-shadow:1px 0 0 #fff"></div></body></html>
